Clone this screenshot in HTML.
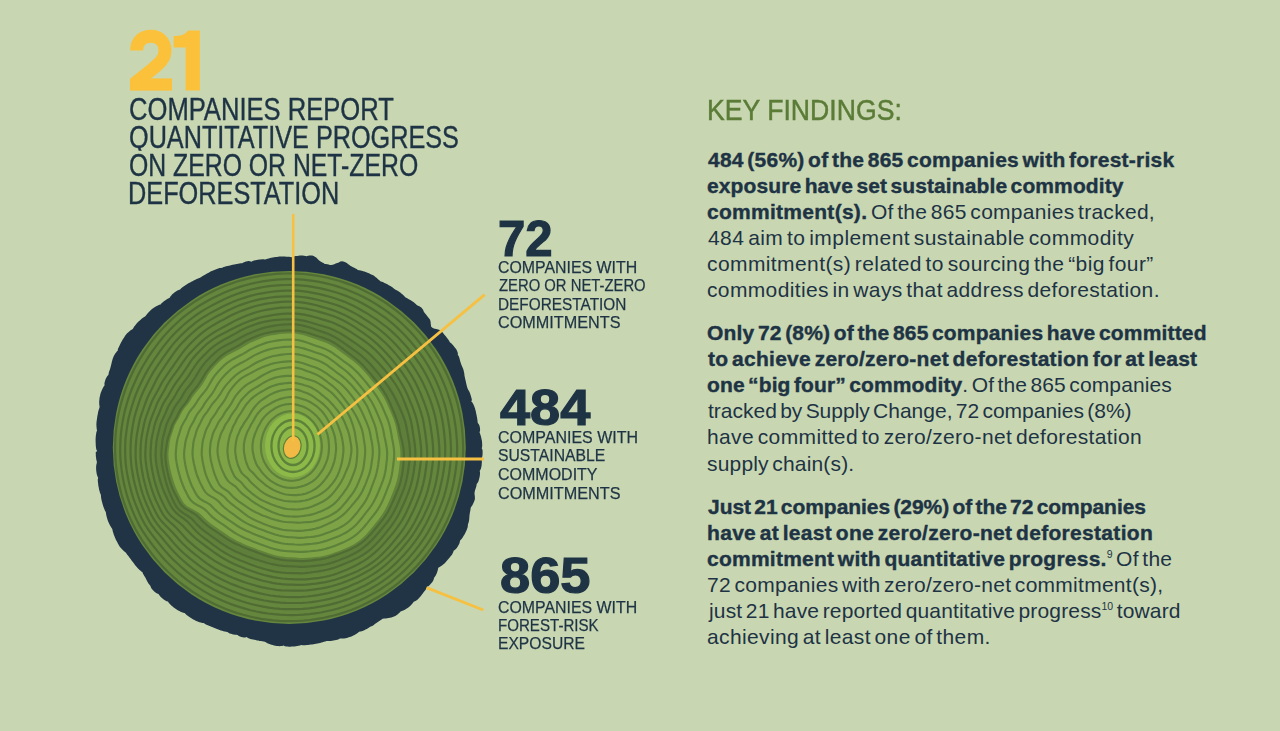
<!DOCTYPE html>
<html><head><meta charset="utf-8"><style>
html,body{margin:0;padding:0;}
body{width:1280px;height:731px;background:#c8d7b2;position:relative;overflow:hidden;font-family:"Liberation Sans",sans-serif;}
div{white-space:nowrap;}
sup{font-size:0.5em;vertical-align:0;position:relative;top:-0.75em;letter-spacing:0;}
</style></head><body>
<svg width="1280" height="731" viewBox="0 0 1280 731" style="position:absolute;left:0;top:0"><defs><filter id="blur" x="-20%" y="-20%" width="140%" height="140%"><feGaussianBlur stdDeviation="4"/></filter></defs><path d="M97.2,451.0 L96.4,449.7 L96.1,448.3 L95.9,447.0 L95.8,445.6 L95.7,444.3 L95.7,442.9 L95.6,441.5 L95.6,440.2 L95.6,438.8 L95.7,437.5 L95.8,436.1 L96.0,434.8 L96.2,433.4 L96.4,432.1 L97.0,430.8 L96.8,429.4 L96.6,428.1 L96.5,426.7 L96.4,425.3 L96.4,423.9 L96.5,422.6 L96.6,421.2 L96.8,419.9 L97.0,418.5 L97.2,417.2 L97.4,415.8 L97.7,414.5 L97.9,413.2 L98.2,411.8 L98.5,410.5 L98.9,409.2 L99.4,407.9 L99.6,406.6 L99.3,405.1 L99.2,403.7 L99.2,402.3 L99.2,400.9 L99.4,399.5 L99.5,398.1 L99.8,396.7 L100.1,395.4 L100.4,394.1 L100.8,392.8 L101.3,391.5 L101.8,390.2 L102.4,388.9 L103.0,387.7 L103.7,386.5 L104.6,385.3 L104.4,383.8 L104.6,382.4 L105.0,381.1 L105.4,379.8 L105.9,378.5 L106.6,377.3 L107.3,376.1 L108.4,375.1 L108.6,373.7 L108.9,372.3 L109.3,371.0 L109.8,369.7 L110.2,368.4 L110.6,367.0 L110.9,365.7 L111.3,364.3 L111.6,362.9 L111.9,361.5 L112.3,360.2 L112.7,358.8 L113.2,357.5 L113.7,356.2 L114.4,355.0 L115.1,353.8 L115.9,352.7 L116.8,351.6 L117.8,350.5 L117.9,349.0 L118.5,347.7 L119.1,346.5 L119.7,345.2 L120.3,343.9 L120.9,342.7 L121.6,341.5 L122.3,340.2 L123.0,339.0 L123.8,337.9 L124.5,336.7 L125.3,335.5 L126.1,334.4 L127.1,333.3 L128.1,332.4 L129.2,331.4 L130.3,330.5 L131.5,329.7 L132.8,328.9 L133.5,327.7 L134.2,326.6 L135.1,325.4 L135.9,324.4 L136.8,323.3 L137.8,322.3 L138.8,321.3 L139.8,320.4 L140.9,319.5 L141.9,318.6 L143.0,317.7 L144.2,316.9 L145.4,316.2 L146.3,315.1 L147.1,314.0 L148.0,312.9 L148.9,311.9 L149.9,310.9 L150.9,310.0 L152.0,309.1 L153.1,308.3 L154.2,307.5 L155.4,306.8 L156.7,306.1 L157.9,305.4 L159.2,304.8 L160.6,304.4 L161.5,303.3 L162.5,302.4 L163.6,301.5 L164.7,300.7 L165.8,299.9 L166.9,299.2 L168.1,298.5 L169.5,298.1 L170.2,296.8 L171.1,295.7 L172.0,294.6 L173.0,293.7 L174.1,292.8 L175.1,292.0 L176.3,291.2 L177.4,290.5 L178.7,289.9 L180.1,289.6 L181.0,288.5 L182.1,287.6 L183.2,286.8 L184.3,286.0 L185.4,285.3 L186.6,284.5 L187.7,283.8 L188.9,283.1 L190.1,282.4 L191.3,281.8 L192.5,281.2 L193.7,280.5 L194.9,279.9 L196.2,279.3 L197.4,278.8 L198.7,278.2 L200.0,277.8 L201.2,277.1 L202.3,276.3 L203.5,275.6 L204.6,274.9 L205.8,274.2 L207.0,273.5 L208.2,272.9 L209.4,272.2 L210.6,271.6 L211.8,271.0 L213.1,270.4 L214.3,269.9 L215.6,269.4 L216.9,268.9 L218.2,268.5 L219.5,268.1 L220.9,267.9 L222.3,267.7 L223.5,267.1 L224.8,266.7 L226.1,266.3 L227.5,266.0 L228.8,265.7 L230.1,265.4 L231.5,265.1 L232.8,264.8 L234.1,264.5 L235.5,264.3 L236.8,264.0 L238.1,263.7 L239.4,263.4 L240.8,263.2 L242.2,263.2 L243.4,262.5 L244.7,261.9 L245.9,261.5 L247.3,261.2 L248.6,261.1 L250.0,261.2 L251.5,261.7 L252.7,260.9 L254.0,260.5 L255.4,260.2 L256.7,259.9 L258.0,259.7 L259.4,259.5 L260.7,259.4 L262.0,259.2 L263.4,259.2 L264.8,259.4 L266.1,259.2 L267.4,258.8 L268.8,258.4 L270.1,258.0 L271.4,257.7 L272.7,257.5 L274.1,257.2 L275.4,257.0 L276.8,256.9 L278.1,256.7 L279.5,256.6 L280.9,256.6 L282.2,256.5 L283.6,256.6 L284.9,256.6 L286.3,256.7 L287.6,256.7 L289.0,256.8 L290.4,257.0 L291.7,257.3 L293.1,256.6 L294.4,256.2 L295.8,256.0 L297.2,255.9 L298.6,255.7 L299.9,255.6 L301.3,255.6 L302.7,255.6 L304.0,255.8 L305.4,256.1 L306.7,256.3 L308.1,255.8 L309.5,255.6 L310.9,255.6 L312.3,255.6 L313.6,255.9 L314.9,256.7 L316.2,257.6 L317.4,258.8 L318.6,260.0 L319.8,261.0 L321.0,261.8 L322.3,262.4 L323.5,263.0 L324.7,264.1 L326.0,263.9 L327.3,264.2 L328.6,264.5 L329.9,264.9 L331.2,265.0 L332.7,264.8 L334.2,264.3 L335.7,263.6 L337.3,263.1 L338.8,262.6 L340.4,261.6 L342.0,261.3 L343.3,261.5 L344.7,261.9 L345.9,262.6 L347.1,263.3 L348.3,264.2 L349.4,265.1 L350.6,265.9 L351.8,266.6 L353.0,267.2 L354.3,267.8 L355.5,268.4 L356.7,269.1 L357.8,269.9 L359.1,270.2 L360.5,270.5 L361.8,270.8 L363.1,271.2 L364.4,271.6 L365.7,272.1 L366.9,272.6 L368.2,273.1 L369.5,273.6 L370.7,274.2 L371.9,274.7 L373.2,275.3 L374.3,276.0 L375.4,276.9 L376.5,277.8 L377.5,278.8 L378.6,279.7 L379.6,280.5 L380.7,281.4 L382.0,281.8 L383.3,282.3 L384.5,282.9 L385.7,283.5 L386.9,284.1 L388.1,284.7 L389.3,285.4 L390.4,286.1 L391.6,286.8 L392.7,287.6 L393.8,288.4 L394.8,289.3 L396.0,289.9 L397.2,290.5 L398.4,291.3 L399.5,292.0 L400.6,292.8 L401.6,293.7 L402.7,294.5 L403.7,295.5 L404.6,296.5 L405.6,297.4 L406.8,298.0 L408.0,298.7 L409.2,299.4 L410.3,300.1 L411.5,300.8 L412.6,301.6 L413.8,302.3 L414.8,303.2 L415.8,304.1 L416.7,305.1 L418.0,305.7 L419.4,306.2 L420.5,307.0 L421.6,307.8 L422.5,308.9 L423.2,310.1 L423.7,311.5 L424.5,312.7 L425.4,313.7 L426.2,314.7 L427.0,315.8 L427.9,316.9 L428.7,317.9 L429.6,318.9 L430.2,320.2 L430.6,321.7 L430.7,323.4 L430.9,325.0 L431.1,326.6 L432.0,327.5 L433.3,328.2 L434.8,328.7 L436.4,329.0 L438.1,329.4 L439.6,329.9 L440.9,330.6 L441.8,331.6 L442.7,332.6 L443.6,333.7 L444.4,334.7 L445.3,335.8 L446.2,336.8 L447.0,337.9 L447.9,338.9 L448.6,340.0 L449.3,341.2 L450.1,342.4 L451.2,343.2 L452.2,344.2 L453.0,345.3 L453.9,346.3 L454.8,347.4 L455.7,348.5 L456.4,349.6 L457.0,350.8 L457.5,352.1 L457.9,353.5 L457.8,355.1 L458.7,356.1 L459.2,357.4 L459.6,358.8 L459.9,360.1 L460.3,361.5 L460.7,362.8 L461.1,364.1 L461.6,365.3 L462.1,366.6 L462.7,367.8 L463.2,369.0 L463.6,370.3 L463.9,371.7 L464.2,373.0 L464.4,374.4 L464.5,375.8 L464.8,377.1 L465.1,378.4 L465.4,379.7 L465.7,381.0 L466.0,382.4 L466.3,383.7 L466.6,385.0 L466.9,386.2 L467.3,387.5 L467.7,388.8 L468.3,390.0 L469.0,391.1 L469.6,392.3 L470.1,393.5 L470.5,394.8 L470.9,396.1 L471.3,397.4 L471.6,398.6 L471.9,399.9 L471.3,401.5 L472.4,402.5 L473.1,403.7 L473.7,405.0 L474.2,406.2 L474.7,407.5 L475.1,408.7 L475.4,410.0 L475.8,411.3 L476.0,412.6 L476.3,413.9 L476.6,415.2 L476.8,416.5 L477.1,417.8 L477.3,419.2 L477.5,420.5 L477.6,421.8 L477.8,423.1 L478.8,424.3 L479.4,425.6 L479.8,426.9 L480.0,428.2 L480.1,429.6 L480.0,430.9 L479.5,432.3 L480.0,433.6 L480.5,434.9 L480.9,436.2 L481.2,437.6 L481.5,438.9 L481.8,440.2 L482.0,441.6 L482.1,442.9 L482.2,444.3 L482.2,445.6 L482.1,447.0 L481.7,448.3 L482.4,449.6 L482.6,451.0 L482.6,452.4 L482.6,453.7 L482.5,455.1 L482.3,456.4 L481.9,457.7 L481.5,459.1 L481.8,460.4 L481.9,461.8 L481.8,463.1 L481.7,464.5 L481.6,465.8 L481.3,467.1 L481.0,468.5 L480.4,469.8 L479.7,471.0 L480.0,472.4 L480.0,473.8 L479.9,475.1 L479.7,476.4 L479.4,477.8 L479.1,479.1 L478.7,480.4 L478.3,481.7 L477.5,482.9 L476.7,484.1 L476.5,485.4 L476.2,486.7 L475.8,488.0 L475.4,489.3 L475.0,490.5 L474.7,491.8 L474.5,493.2 L474.6,494.5 L474.8,495.9 L474.9,497.4 L474.9,498.7 L474.7,500.1 L474.2,501.3 L473.7,502.6 L473.1,503.8 L472.5,505.0 L471.7,506.2 L470.9,507.3 L470.6,508.6 L470.4,510.0 L470.2,511.3 L469.9,512.6 L469.7,513.9 L469.5,515.3 L469.4,516.7 L469.3,518.1 L469.2,519.4 L469.0,520.8 L468.7,522.2 L468.2,523.4 L467.9,524.7 L467.8,526.2 L467.6,527.5 L467.1,528.8 L466.7,530.1 L466.1,531.3 L465.5,532.6 L464.9,533.8 L464.2,534.9 L463.5,536.1 L462.8,537.3 L462.0,538.4 L461.1,539.5 L460.1,540.4 L459.8,541.8 L459.5,543.2 L458.9,544.4 L458.3,545.6 L457.6,546.8 L456.8,547.9 L455.9,548.9 L454.8,549.9 L453.6,550.7 L453.3,552.1 L452.7,553.3 L452.1,554.5 L451.3,555.6 L450.4,556.6 L449.5,557.7 L448.6,558.7 L447.7,559.7 L446.9,560.7 L446.0,561.8 L445.2,562.8 L444.2,563.8 L443.1,564.6 L442.0,565.4 L440.8,566.2 L439.6,567.0 L438.3,567.7 L438.0,569.1 L437.7,570.5 L437.2,571.9 L436.8,573.2 L436.2,574.5 L435.6,575.8 L434.8,576.8 L434.0,577.9 L433.7,579.5 L433.1,580.8 L432.4,581.9 L431.5,582.9 L430.6,584.0 L429.7,585.0 L428.7,585.9 L427.6,586.8 L426.7,587.7 L426.1,589.0 L425.3,590.2 L424.4,591.3 L423.6,592.3 L422.8,593.5 L421.9,594.6 L421.1,595.7 L420.2,596.8 L419.3,597.8 L418.4,598.8 L417.4,599.7 L416.3,600.5 L415.0,601.2 L413.7,601.7 L412.9,602.9 L412.0,604.0 L411.1,605.1 L410.1,606.0 L409.0,606.9 L408.0,607.7 L406.8,608.5 L405.6,609.2 L404.4,609.9 L403.2,610.5 L401.8,610.9 L400.6,611.6 L399.7,612.6 L398.6,613.5 L397.5,614.4 L396.4,615.2 L395.3,615.9 L394.0,616.5 L392.7,617.0 L391.4,617.4 L390.0,617.7 L388.5,618.0 L387.1,618.2 L385.6,618.4 L384.2,618.6 L382.7,618.7 L381.6,619.5 L380.5,620.2 L379.3,620.9 L378.2,621.7 L377.1,622.5 L376.0,623.3 L374.9,624.1 L373.8,624.9 L372.7,625.7 L371.5,626.3 L370.2,626.8 L369.1,627.6 L368.0,628.3 L366.8,629.0 L365.5,629.6 L364.3,630.2 L363.1,630.7 L361.8,631.2 L360.5,631.6 L359.1,631.8 L358.0,632.7 L356.9,633.6 L355.7,634.3 L354.5,635.0 L353.3,635.6 L352.0,636.2 L350.8,636.7 L349.5,637.1 L348.2,637.5 L346.8,637.9 L345.5,638.2 L344.1,638.4 L342.8,638.5 L341.4,638.6 L339.9,638.4 L338.7,639.3 L337.4,639.7 L336.1,640.0 L334.8,640.3 L333.4,640.5 L332.1,640.7 L330.8,640.9 L329.4,641.0 L328.0,641.1 L326.6,640.9 L325.3,641.4 L324.0,641.8 L322.7,642.2 L321.4,642.5 L320.1,642.9 L318.7,643.2 L317.4,643.4 L316.1,643.7 L314.7,644.0 L313.4,644.2 L312.1,644.4 L310.7,644.6 L309.4,644.8 L308.0,644.9 L306.7,645.1 L305.3,645.2 L303.9,645.2 L302.6,645.2 L301.2,645.1 L299.9,645.5 L298.5,645.8 L297.2,646.1 L295.8,646.3 L294.5,646.4 L293.1,646.6 L291.7,646.6 L290.4,646.7 L289.0,646.7 L287.6,646.6 L286.3,646.5 L284.9,646.3 L283.6,645.4 L282.2,646.0 L280.8,646.1 L279.5,646.2 L278.1,646.1 L276.7,645.9 L275.4,645.7 L274.0,645.4 L272.7,645.1 L271.4,644.7 L270.1,644.2 L268.7,643.7 L267.4,643.2 L266.2,642.5 L264.9,641.8 L263.6,641.4 L262.3,641.3 L260.9,641.1 L259.6,640.9 L258.3,640.6 L257.0,640.4 L255.7,640.1 L254.3,639.8 L253.0,639.6 L251.7,639.2 L250.4,638.9 L249.2,638.4 L247.9,637.9 L246.7,637.1 L245.3,637.5 L243.9,637.5 L242.6,637.3 L241.3,637.0 L240.0,636.5 L238.8,635.9 L237.6,635.1 L236.3,634.7 L234.9,634.7 L233.6,634.5 L232.3,634.2 L231.0,633.8 L229.7,633.4 L228.5,632.8 L227.4,632.0 L226.0,631.8 L224.7,631.5 L223.4,631.2 L222.1,630.8 L220.8,630.4 L219.6,630.0 L218.3,629.6 L217.0,629.1 L215.8,628.6 L214.5,628.1 L213.3,627.6 L212.1,627.1 L210.8,626.5 L209.6,626.0 L208.4,625.5 L207.1,624.9 L205.9,624.4 L204.8,623.7 L203.6,623.0 L202.2,622.9 L200.8,622.6 L199.5,622.2 L198.2,621.8 L196.9,621.3 L195.7,620.7 L194.5,620.1 L193.3,619.5 L192.1,618.8 L191.0,618.1 L189.8,617.3 L188.7,616.6 L187.7,615.7 L186.6,614.9 L185.6,613.9 L184.6,612.9 L183.2,612.7 L181.9,612.2 L180.6,611.7 L179.4,611.1 L178.2,610.4 L177.0,609.7 L175.9,609.0 L174.8,608.2 L173.7,607.4 L172.6,606.6 L171.6,605.7 L170.6,604.8 L169.6,603.8 L168.7,602.8 L168.0,601.5 L166.5,601.2 L165.3,600.6 L164.1,599.8 L163.0,599.0 L162.0,598.1 L161.0,597.2 L160.1,596.2 L159.2,595.1 L158.5,593.9 L157.1,593.4 L155.9,592.7 L154.8,591.9 L153.8,591.0 L152.8,590.1 L151.9,589.0 L151.2,587.9 L150.6,586.5 L150.0,585.2 L149.0,584.3 L148.3,583.2 L147.6,582.0 L146.9,580.7 L146.3,579.5 L145.7,578.2 L145.0,577.0 L144.3,575.9 L143.6,574.7 L142.9,573.6 L142.5,572.2 L141.3,571.4 L140.3,570.6 L139.3,569.7 L138.3,568.7 L137.4,567.7 L136.5,566.7 L135.6,565.7 L134.8,564.7 L134.0,563.6 L133.2,562.6 L132.4,561.5 L131.6,560.4 L130.8,559.3 L130.0,558.2 L129.2,557.2 L128.4,556.1 L127.5,555.1 L126.7,554.0 L126.0,552.8 L125.0,551.9 L123.8,551.0 L122.8,550.1 L121.8,549.1 L120.9,548.1 L120.0,547.0 L119.3,545.9 L118.6,544.7 L117.9,543.5 L117.3,542.3 L116.6,541.1 L116.0,539.9 L115.5,538.7 L114.9,537.4 L114.4,536.1 L113.9,534.9 L113.5,533.6 L113.0,532.3 L112.7,531.0 L112.4,529.6 L112.0,528.4 L111.1,527.2 L110.4,526.1 L109.8,524.9 L109.2,523.7 L108.6,522.4 L108.1,521.2 L107.6,519.9 L107.2,518.6 L106.8,517.3 L106.5,516.0 L106.2,514.7 L106.0,513.3 L105.8,511.9 L105.0,510.8 L104.5,509.5 L104.0,508.3 L103.5,507.0 L103.1,505.7 L102.7,504.4 L102.3,503.1 L102.0,501.8 L101.6,500.5 L101.4,499.2 L101.1,497.8 L101.0,496.5 L100.9,495.1 L100.4,493.8 L99.9,492.6 L99.6,491.3 L99.2,490.0 L98.9,488.6 L98.7,487.3 L98.4,486.0 L98.2,484.6 L98.1,483.3 L97.9,481.9 L97.8,480.6 L97.8,479.2 L98.2,477.8 L97.5,476.5 L97.1,475.2 L96.7,473.9 L96.5,472.6 L96.3,471.3 L96.2,469.9 L96.1,468.6 L96.1,467.2 L96.2,465.8 L96.4,464.5 L96.8,463.1 L96.9,461.7 L96.5,460.4 L96.2,459.1 L96.1,457.7 L95.9,456.4 L95.8,455.0 L95.8,453.7 L95.7,452.3Z" fill="#203446"/><circle cx="289.3" cy="447.4" r="176.5" fill="#64863d"/><path d="M162.3,446.0 L162.8,441.5 L163.7,437.1 L165.2,432.7 L166.4,428.4 L167.8,424.2 L169.9,420.2 L172.2,416.3 L174.1,412.3 L176.0,408.5 L178.7,404.9 L181.5,401.5 L183.8,398.1 L185.9,394.5 L188.3,391.1 L190.9,387.9 L193.5,384.8 L195.9,381.5 L198.1,378.2 L200.1,374.6 L202.2,371.1 L204.5,367.6 L207.1,364.5 L209.9,361.5 L212.7,358.5 L215.6,355.6 L218.8,352.9 L222.1,350.5 L225.7,348.4 L229.3,346.5 L233.0,344.6 L236.6,342.7 L240.1,340.7 L243.6,338.5 L247.3,336.6 L251.1,334.9 L254.9,333.3 L258.7,331.7 L262.7,330.3 L266.7,329.3 L270.8,328.4 L274.9,327.8 L279.0,327.2 L283.2,326.8 L287.3,326.5 L291.5,326.4 L295.7,326.6 L299.8,327.2 L303.9,328.1 L307.9,329.2 L311.9,330.5 L315.8,331.9 L319.6,333.2 L323.5,334.4 L327.3,335.8 L331.0,337.4 L334.6,339.3 L338.1,341.4 L341.4,343.7 L344.6,346.1 L347.8,348.5 L351.0,350.8 L354.2,353.1 L357.3,355.4 L360.4,357.9 L363.3,360.5 L366.0,363.2 L368.7,366.1 L371.3,369.0 L373.8,371.9 L376.3,374.9 L378.7,377.9 L381.1,380.9 L383.4,384.0 L385.6,387.2 L387.7,390.4 L389.7,393.8 L391.6,397.2 L393.3,400.7 L394.9,404.2 L396.4,407.8 L398.0,411.4 L399.5,415.0 L400.8,418.7 L402.0,422.5 L403.0,426.3 L403.7,430.2 L404.4,434.1 L405.2,438.1 L406.0,442.0 L406.7,446.0 L407.2,450.0 L407.4,454.1 L407.2,458.2 L406.9,462.2 L406.4,466.3 L405.9,470.3 L405.3,474.4 L404.5,478.4 L403.6,482.4 L402.4,486.4 L401.0,490.3 L399.5,494.1 L398.0,498.0 L396.5,501.8 L394.8,505.6 L393.0,509.5 L391.1,513.2 L389.0,516.8 L386.6,520.3 L384.0,523.7 L381.4,526.9 L378.7,530.2 L376.0,533.6 L373.3,536.8 L370.4,540.0 L367.3,543.0 L364.0,545.8 L360.5,548.4 L356.9,550.6 L353.1,552.7 L349.2,554.5 L345.2,556.1 L341.2,557.6 L337.2,559.1 L333.2,560.5 L329.1,561.8 L325.0,562.8 L320.8,563.5 L316.6,563.9 L312.4,564.3 L308.2,564.7 L304.0,565.0 L299.8,564.9 L295.6,564.6 L291.5,564.3 L287.4,564.1 L283.3,563.8 L279.2,563.1 L275.2,562.3 L271.2,561.3 L267.2,560.1 L263.4,558.8 L259.5,557.5 L255.7,556.1 L251.9,554.7 L248.2,553.3 L244.4,551.8 L240.7,550.2 L237.0,548.5 L233.3,546.7 L229.8,544.8 L226.3,542.7 L222.9,540.4 L219.6,538.0 L216.2,535.7 L212.8,533.4 L209.3,531.1 L205.9,528.6 L202.6,526.0 L199.6,523.1 L196.7,520.1 L193.6,517.1 L189.7,514.6 L185.3,512.3 L181.1,509.7 L177.8,506.4 L175.4,502.6 L173.3,498.6 L171.3,494.6 L169.5,490.4 L167.8,486.2 L166.4,481.9 L165.2,477.5 L164.1,473.1 L163.1,468.6 L162.3,464.2 L161.7,459.6 L161.4,455.1 L161.7,450.5Z" fill="none" stroke="#4f6f35" stroke-opacity="0.35" stroke-width="12" filter="url(#blur)"/><path d="M166.4,446.0 L167.1,441.7 L168.1,437.4 L169.6,433.2 L170.9,429.1 L172.3,425.0 L174.4,421.1 L176.6,417.4 L178.4,413.6 L180.3,409.9 L182.8,406.4 L185.4,403.1 L187.6,399.8 L189.6,396.3 L191.8,393.0 L194.3,389.9 L196.8,386.8 L199.1,383.7 L201.2,380.4 L203.2,377.0 L205.2,373.6 L207.4,370.3 L209.9,367.2 L212.6,364.3 L215.3,361.4 L218.1,358.6 L221.1,355.9 L224.3,353.5 L227.7,351.4 L231.2,349.5 L234.7,347.6 L238.2,345.7 L241.6,343.7 L245.0,341.5 L248.5,339.7 L252.2,338.1 L255.9,336.5 L259.7,335.0 L263.5,333.7 L267.4,332.8 L271.4,332.0 L275.4,331.4 L279.4,330.9 L283.4,330.6 L287.5,330.4 L291.5,330.3 L295.5,330.5 L299.5,331.0 L303.5,331.8 L307.4,332.8 L311.2,334.0 L315.0,335.3 L318.8,336.5 L322.6,337.6 L326.3,338.9 L329.9,340.5 L333.4,342.3 L336.7,344.4 L339.9,346.7 L343.1,349.0 L346.1,351.4 L349.2,353.7 L352.2,356.0 L355.2,358.3 L358.1,360.7 L360.9,363.3 L363.6,366.0 L366.1,368.7 L368.6,371.6 L371.0,374.4 L373.4,377.3 L375.7,380.2 L378.0,383.2 L380.2,386.2 L382.3,389.2 L384.4,392.4 L386.3,395.6 L388.0,398.9 L389.6,402.3 L391.1,405.8 L392.5,409.2 L394.0,412.7 L395.4,416.2 L396.7,419.8 L397.9,423.4 L398.9,427.1 L399.6,430.8 L400.4,434.6 L401.3,438.3 L402.2,442.1 L403.0,446.0 L403.6,449.9 L403.9,453.9 L403.9,457.8 L403.6,461.8 L403.3,465.7 L402.8,469.7 L402.3,473.6 L401.5,477.6 L400.6,481.5 L399.5,485.3 L398.1,489.1 L396.5,492.8 L395.0,496.5 L393.4,500.2 L391.8,503.9 L390.1,507.6 L388.2,511.2 L386.1,514.7 L383.8,518.1 L381.3,521.3 L378.7,524.5 L376.1,527.7 L373.5,530.9 L370.8,534.0 L367.9,537.1 L364.9,540.0 L361.7,542.6 L358.3,545.0 L354.7,547.1 L351.0,549.0 L347.2,550.7 L343.3,552.3 L339.5,553.7 L335.6,555.1 L331.7,556.4 L327.8,557.7 L323.8,558.7 L319.8,559.4 L315.7,559.9 L311.7,560.4 L307.6,560.8 L303.6,561.2 L299.6,561.2 L295.5,560.9 L291.5,560.7 L287.5,560.5 L283.5,560.1 L279.6,559.4 L275.7,558.6 L271.8,557.5 L268.0,556.4 L264.3,555.1 L260.6,553.7 L256.9,552.4 L253.3,551.0 L249.6,549.6 L246.0,548.2 L242.4,546.7 L238.8,545.1 L235.2,543.5 L231.7,541.7 L228.3,539.7 L225.0,537.6 L221.7,535.3 L218.4,533.1 L215.1,530.9 L211.7,528.7 L208.4,526.3 L205.2,523.7 L202.2,520.9 L199.4,518.0 L196.4,515.1 L192.6,512.7 L188.4,510.4 L184.3,507.9 L181.1,504.7 L178.7,501.0 L176.7,497.1 L174.7,493.2 L172.8,489.2 L171.2,485.1 L169.8,480.9 L168.6,476.6 L167.6,472.3 L166.7,468.0 L166.0,463.6 L165.5,459.2 L165.4,454.8 L165.8,450.4Z" fill="none" stroke="#506c34" stroke-width="2.2"/><path d="M161.9,446.0 L162.3,441.5 L163.1,437.0 L164.3,432.6 L165.4,428.3 L166.7,424.0 L168.5,419.9 L170.6,415.9 L172.4,411.8 L174.3,407.9 L176.7,404.2 L179.4,400.7 L181.7,397.1 L183.7,393.4 L186.0,389.9 L188.6,386.6 L191.2,383.3 L193.6,380.0 L195.8,376.5 L197.9,372.9 L200.1,369.3 L202.5,365.8 L205.1,362.6 L208.0,359.5 L210.9,356.5 L214.0,353.6 L217.2,350.9 L220.6,348.4 L224.2,346.3 L227.9,344.3 L231.7,342.4 L235.4,340.5 L239.1,338.5 L242.7,336.4 L246.5,334.6 L250.3,332.9 L254.2,331.3 L258.2,329.7 L262.2,328.4 L266.3,327.3 L270.4,326.4 L274.6,325.6 L278.8,325.0 L283.0,324.6 L287.2,324.3 L291.5,324.2 L295.7,324.4 L300.0,325.0 L304.1,325.9 L308.2,327.0 L312.3,328.3 L316.2,329.7 L320.2,331.1 L324.1,332.4 L328.0,333.8 L331.7,335.5 L335.4,337.4 L338.9,339.6 L342.3,341.8 L345.6,344.2 L348.9,346.5 L352.2,348.9 L355.5,351.2 L358.7,353.5 L361.8,356.0 L364.8,358.7 L367.6,361.4 L370.4,364.3 L373.0,367.3 L375.6,370.3 L378.1,373.3 L380.6,376.4 L383.0,379.5 L385.4,382.7 L387.7,385.9 L389.9,389.2 L392.0,392.6 L394.0,396.0 L395.8,399.6 L397.5,403.2 L399.2,406.8 L400.8,410.5 L402.4,414.2 L403.9,418.0 L405.2,421.8 L406.2,425.8 L406.9,429.8 L407.6,433.8 L408.3,437.8 L409.0,441.9 L409.6,446.0 L409.9,450.1 L410.0,454.3 L409.8,458.4 L409.3,462.6 L408.7,466.7 L408.1,470.8 L407.4,474.9 L406.6,479.0 L405.6,483.1 L404.4,487.1 L403.0,491.0 L401.4,494.9 L399.8,498.8 L398.2,502.7 L396.5,506.6 L394.6,510.4 L392.5,514.2 L390.3,517.8 L387.9,521.3 L385.2,524.6 L382.5,527.9 L379.7,531.2 L376.9,534.5 L374.1,537.7 L371.1,540.9 L368.0,543.9 L364.7,546.7 L361.2,549.3 L357.5,551.7 L353.7,553.8 L349.9,555.7 L345.9,557.5 L341.9,559.1 L337.8,560.7 L333.8,562.1 L329.7,563.4 L325.5,564.5 L321.2,565.2 L317.0,565.7 L312.7,566.1 L308.4,566.5 L304.2,566.8 L299.9,566.8 L295.7,566.5 L291.5,566.3 L287.3,566.2 L283.1,565.8 L279.0,565.3 L274.8,564.6 L270.7,563.7 L266.7,562.7 L262.7,561.5 L258.7,560.3 L254.8,559.0 L250.9,557.6 L247.0,556.2 L243.1,554.7 L239.3,553.1 L235.5,551.4 L231.7,549.5 L228.1,547.5 L224.5,545.3 L221.0,543.0 L217.6,540.5 L214.2,538.1 L210.7,535.7 L207.3,533.2 L203.8,530.7 L200.5,527.9 L197.4,524.9 L194.5,521.7 L191.5,518.7 L187.8,516.0 L183.6,513.4 L179.7,510.5 L176.6,507.1 L174.3,503.1 L172.4,499.0 L170.5,494.9 L168.8,490.7 L167.3,486.4 L166.0,482.0 L164.9,477.6 L163.8,473.1 L162.9,468.7 L162.1,464.2 L161.6,459.7 L161.3,455.1 L161.5,450.5Z" fill="none" stroke="#506c34" stroke-width="2.2"/><path d="M156.1,446.0 L156.5,441.3 L157.4,436.6 L158.6,432.0 L159.7,427.5 L161.0,423.0 L162.9,418.7 L164.9,414.4 L166.7,410.2 L168.5,406.0 L170.9,402.1 L173.5,398.3 L175.8,394.5 L177.9,390.6 L180.3,386.9 L182.9,383.3 L185.6,379.8 L188.2,376.3 L190.6,372.7 L193.0,369.0 L195.4,365.4 L198.0,361.8 L200.9,358.5 L204.0,355.4 L207.1,352.2 L210.3,349.2 L213.7,346.4 L217.3,343.8 L221.0,341.5 L224.8,339.3 L228.7,337.2 L232.5,335.1 L236.4,333.0 L240.2,330.8 L244.2,328.8 L248.2,327.1 L252.3,325.5 L256.5,323.9 L260.7,322.6 L265.1,321.6 L269.4,320.9 L273.8,320.2 L278.2,319.8 L282.7,319.5 L287.1,319.3 L291.5,319.3 L295.9,319.5 L300.3,320.1 L304.6,320.9 L308.9,322.0 L313.2,323.2 L317.3,324.5 L321.5,325.7 L325.6,327.0 L329.7,328.3 L333.7,330.0 L337.6,331.9 L341.4,334.0 L345.0,336.3 L348.6,338.6 L352.1,341.0 L355.6,343.4 L359.1,345.8 L362.5,348.3 L365.8,350.9 L369.0,353.6 L372.1,356.5 L375.1,359.4 L378.0,362.5 L380.8,365.6 L383.6,368.7 L386.3,371.9 L388.9,375.2 L391.5,378.6 L393.9,382.0 L396.2,385.5 L398.4,389.2 L400.4,392.9 L402.2,396.7 L403.8,400.6 L405.4,404.5 L406.9,408.5 L408.4,412.5 L409.7,416.5 L410.8,420.6 L411.7,424.8 L412.4,429.0 L413.0,433.2 L413.7,437.5 L414.4,441.7 L414.9,446.0 L415.3,450.3 L415.4,454.7 L415.2,459.0 L414.8,463.3 L414.3,467.6 L413.7,472.0 L412.9,476.3 L412.0,480.6 L410.9,484.8 L409.6,489.0 L408.1,493.1 L406.5,497.2 L404.8,501.2 L403.0,505.3 L401.1,509.3 L399.2,513.3 L397.1,517.2 L394.7,521.0 L392.2,524.7 L389.5,528.3 L386.7,531.7 L383.9,535.2 L381.0,538.7 L378.0,542.1 L374.9,545.3 L371.6,548.5 L368.0,551.4 L364.3,554.0 L360.5,556.4 L356.5,558.6 L352.4,560.5 L348.2,562.3 L344.0,564.0 L339.8,565.6 L335.6,567.2 L331.3,568.6 L327.0,569.8 L322.6,570.7 L318.2,571.4 L313.7,572.0 L309.3,572.6 L304.9,573.1 L300.4,573.3 L295.9,573.2 L291.5,573.1 L287.1,573.0 L282.6,572.7 L278.2,572.2 L273.9,571.4 L269.6,570.4 L265.3,569.3 L261.1,568.0 L256.9,566.7 L252.8,565.2 L248.7,563.7 L244.6,562.1 L240.5,560.5 L236.5,558.7 L232.6,556.9 L228.6,554.9 L224.8,552.7 L221.1,550.4 L217.5,547.9 L213.9,545.3 L210.4,542.7 L206.8,540.0 L203.3,537.3 L199.8,534.5 L196.5,531.5 L193.4,528.3 L190.5,524.9 L187.4,521.6 L183.8,518.6 L179.8,515.8 L176.0,512.7 L172.8,509.1 L170.4,505.1 L168.3,500.9 L166.2,496.6 L164.3,492.3 L162.5,487.9 L161.0,483.4 L159.7,478.9 L158.4,474.3 L157.4,469.6 L156.5,465.0 L155.9,460.3 L155.6,455.5 L155.7,450.7Z" fill="none" stroke="#506c34" stroke-width="2.2"/><path d="M150.9,446.0 L151.3,441.1 L152.1,436.2 L153.2,431.5 L154.2,426.7 L155.5,422.0 L157.3,417.5 L159.3,413.0 L161.0,408.6 L162.9,404.2 L165.3,400.1 L168.0,396.1 L170.3,392.0 L172.6,388.0 L175.0,384.1 L177.7,380.3 L180.5,376.6 L183.1,372.9 L185.7,369.1 L188.2,365.3 L190.7,361.4 L193.5,357.7 L196.5,354.2 L199.7,350.9 L202.9,347.7 L206.3,344.5 L209.9,341.6 L213.7,338.9 L217.6,336.5 L221.7,334.3 L225.8,332.2 L229.9,330.1 L233.9,328.0 L238.0,325.9 L242.2,324.0 L246.5,322.3 L250.8,320.6 L255.1,319.1 L259.5,317.8 L264.0,316.7 L268.5,315.8 L273.1,315.0 L277.7,314.4 L282.3,313.9 L286.9,313.6 L291.5,313.5 L296.1,313.7 L300.7,314.1 L305.3,314.9 L309.8,315.9 L314.2,317.0 L318.6,318.3 L323.0,319.6 L327.4,320.9 L331.7,322.3 L335.9,323.9 L340.0,325.9 L344.0,328.0 L347.9,330.3 L351.8,332.6 L355.5,335.1 L359.3,337.6 L363.0,340.0 L366.6,342.6 L370.1,345.4 L373.5,348.3 L376.7,351.3 L379.8,354.5 L382.8,357.8 L385.7,361.2 L388.5,364.6 L391.3,368.1 L393.9,371.6 L396.4,375.2 L398.8,378.9 L401.1,382.7 L403.3,386.5 L405.4,390.5 L407.3,394.5 L409.0,398.5 L410.7,402.6 L412.4,406.7 L413.9,410.9 L415.4,415.1 L416.6,419.4 L417.6,423.8 L418.4,428.2 L419.1,432.6 L419.8,437.0 L420.4,441.5 L420.9,446.0 L421.2,450.5 L421.2,455.1 L421.0,459.6 L420.5,464.1 L419.9,468.6 L419.2,473.1 L418.4,477.6 L417.5,482.1 L416.4,486.6 L415.0,491.0 L413.5,495.3 L411.8,499.6 L410.1,503.8 L408.2,508.1 L406.3,512.3 L404.2,516.4 L401.9,520.5 L399.4,524.4 L396.7,528.2 L393.9,531.9 L390.9,535.5 L387.8,539.0 L384.8,542.6 L381.6,546.0 L378.3,549.4 L374.8,552.6 L371.2,555.7 L367.4,558.5 L363.4,561.1 L359.3,563.5 L355.2,565.7 L350.9,567.8 L346.6,569.7 L342.2,571.5 L337.8,573.2 L333.3,574.7 L328.8,576.0 L324.2,577.0 L319.5,577.8 L314.8,578.4 L310.2,578.9 L305.5,579.3 L300.8,579.4 L296.2,579.3 L291.5,579.1 L286.9,578.9 L282.2,578.5 L277.6,577.9 L273.1,577.1 L268.6,576.1 L264.1,575.0 L259.7,573.7 L255.3,572.3 L250.9,570.8 L246.6,569.3 L242.4,567.6 L238.1,565.8 L234.0,564.0 L229.9,561.9 L225.8,559.8 L221.8,557.5 L218.0,555.0 L214.2,552.4 L210.5,549.7 L206.8,547.0 L203.1,544.2 L199.4,541.4 L195.7,538.5 L192.2,535.4 L188.9,532.1 L185.7,528.7 L182.4,525.2 L178.7,522.1 L174.6,519.0 L170.8,515.7 L167.6,511.9 L165.1,507.7 L162.9,503.3 L160.8,498.8 L158.9,494.3 L157.2,489.6 L155.7,484.9 L154.4,480.2 L153.3,475.4 L152.3,470.5 L151.5,465.7 L150.8,460.8 L150.5,455.9 L150.6,450.9Z" fill="none" stroke="#506c34" stroke-width="2.2"/><path d="M145.7,446.0 L146.1,440.9 L146.8,435.9 L147.9,430.9 L149.0,426.0 L150.3,421.1 L152.0,416.3 L153.9,411.7 L155.7,407.1 L157.5,402.5 L159.9,398.1 L162.4,393.8 L164.8,389.6 L167.0,385.3 L169.6,381.2 L172.3,377.2 L175.1,373.3 L178.0,369.4 L180.7,365.5 L183.4,361.5 L186.2,357.6 L189.2,353.9 L192.5,350.4 L195.9,347.0 L199.3,343.6 L202.9,340.4 L206.7,337.4 L210.6,334.6 L214.6,332.0 L218.8,329.6 L223.0,327.3 L227.2,325.0 L231.4,322.7 L235.6,320.4 L239.9,318.4 L244.4,316.5 L248.8,314.7 L253.4,313.1 L258.0,311.7 L262.7,310.5 L267.4,309.6 L272.2,308.8 L277.0,308.2 L281.8,307.7 L286.7,307.5 L291.5,307.4 L296.3,307.6 L301.1,308.0 L305.9,308.7 L310.7,309.7 L315.3,310.8 L320.0,312.1 L324.6,313.4 L329.1,314.7 L333.7,316.2 L338.1,318.0 L342.4,320.0 L346.6,322.2 L350.7,324.6 L354.7,327.2 L358.6,329.8 L362.5,332.4 L366.3,335.1 L370.0,337.9 L373.6,340.9 L377.1,343.9 L380.5,347.1 L383.8,350.4 L386.9,353.8 L390.0,357.3 L393.0,360.8 L395.9,364.4 L398.8,368.1 L401.5,371.8 L404.1,375.6 L406.6,379.5 L409.0,383.5 L411.1,387.6 L413.1,391.8 L415.0,396.1 L416.7,400.4 L418.4,404.8 L419.9,409.2 L421.3,413.6 L422.6,418.1 L423.6,422.7 L424.3,427.3 L425.1,432.0 L425.7,436.6 L426.3,441.3 L426.8,446.0 L427.1,450.7 L427.1,455.5 L426.9,460.2 L426.4,465.0 L425.8,469.7 L425.1,474.4 L424.3,479.1 L423.2,483.8 L422.0,488.4 L420.6,493.0 L418.9,497.5 L417.1,501.9 L415.3,506.4 L413.3,510.8 L411.2,515.1 L409.0,519.4 L406.6,523.7 L404.1,527.8 L401.3,531.8 L398.4,535.7 L395.3,539.5 L392.2,543.3 L389.0,547.0 L385.7,550.6 L382.2,554.1 L378.6,557.5 L374.8,560.6 L370.8,563.5 L366.6,566.2 L362.3,568.6 L357.9,570.9 L353.4,572.9 L348.9,574.8 L344.3,576.6 L339.6,578.2 L335.0,579.8 L330.2,581.0 L325.4,582.1 L320.6,582.9 L315.8,583.6 L310.9,584.2 L306.1,584.6 L301.2,584.8 L296.3,584.8 L291.5,584.7 L286.7,584.6 L281.8,584.2 L277.0,583.6 L272.3,582.8 L267.5,581.8 L262.9,580.7 L258.2,579.4 L253.6,578.0 L249.1,576.5 L244.6,574.9 L240.1,573.2 L235.7,571.4 L231.2,569.5 L226.9,567.5 L222.6,565.4 L218.4,563.0 L214.2,560.6 L210.2,557.9 L206.3,555.1 L202.3,552.3 L198.4,549.3 L194.6,546.3 L190.9,543.2 L187.3,539.9 L183.9,536.3 L180.7,532.6 L177.4,528.9 L173.7,525.4 L169.8,522.0 L166.1,518.4 L163.0,514.3 L160.5,509.9 L158.3,505.3 L156.1,500.7 L154.2,496.0 L152.4,491.2 L150.8,486.3 L149.5,481.4 L148.2,476.5 L147.2,471.4 L146.3,466.4 L145.7,461.3 L145.3,456.2 L145.4,451.1Z" fill="none" stroke="#506c34" stroke-width="2.2"/><path d="M140.7,446.0 L141.1,440.7 L141.8,435.5 L142.8,430.4 L143.8,425.2 L145.0,420.2 L146.7,415.2 L148.5,410.4 L150.3,405.5 L152.2,400.8 L154.6,396.2 L157.1,391.7 L159.6,387.3 L161.9,382.8 L164.5,378.5 L167.4,374.3 L170.2,370.2 L173.1,366.2 L175.9,362.0 L178.8,357.9 L181.7,353.8 L184.7,349.9 L188.1,346.1 L191.5,342.5 L195.1,339.0 L198.8,335.6 L202.7,332.3 L206.7,329.3 L210.9,326.6 L215.3,324.0 L219.6,321.5 L224.1,319.2 L228.5,316.8 L233.0,314.5 L237.5,312.5 L242.2,310.6 L246.9,308.9 L251.7,307.2 L256.6,305.8 L261.5,304.7 L266.4,303.7 L271.4,303.0 L276.4,302.3 L281.4,301.9 L286.5,301.7 L291.5,301.6 L296.5,301.8 L301.5,302.3 L306.5,303.1 L311.4,304.1 L316.3,305.3 L321.1,306.6 L325.9,308.0 L330.7,309.4 L335.4,311.0 L340.0,312.9 L344.5,314.9 L348.9,317.2 L353.2,319.6 L357.4,322.1 L361.5,324.7 L365.6,327.4 L369.7,330.1 L373.6,332.9 L377.5,335.9 L381.2,339.1 L384.8,342.3 L388.3,345.8 L391.7,349.3 L394.9,352.9 L398.0,356.6 L401.1,360.4 L404.0,364.3 L406.8,368.2 L409.5,372.3 L412.0,376.4 L414.4,380.6 L416.7,385.0 L418.7,389.4 L420.7,393.8 L422.5,398.3 L424.3,402.9 L425.9,407.5 L427.4,412.1 L428.7,416.8 L429.7,421.6 L430.6,426.5 L431.3,431.3 L432.0,436.2 L432.6,441.1 L433.0,446.0 L433.2,450.9 L433.2,455.9 L432.9,460.9 L432.4,465.8 L431.7,470.7 L431.0,475.6 L430.1,480.6 L429.0,485.4 L427.8,490.3 L426.3,495.1 L424.6,499.8 L422.8,504.5 L420.9,509.1 L418.8,513.7 L416.6,518.2 L414.3,522.7 L411.7,527.1 L409.0,531.3 L406.0,535.5 L402.9,539.5 L399.6,543.3 L396.2,547.1 L392.8,550.9 L389.2,554.5 L385.5,558.0 L381.7,561.4 L377.6,564.6 L373.5,567.5 L369.2,570.3 L364.7,572.8 L360.2,575.2 L355.6,577.4 L350.9,579.5 L346.2,581.4 L341.4,583.2 L336.6,584.8 L331.7,586.3 L326.8,587.4 L321.8,588.4 L316.7,589.1 L311.7,589.8 L306.7,590.4 L301.6,590.6 L296.6,590.7 L291.5,590.6 L286.5,590.5 L281.4,590.3 L276.4,589.8 L271.4,589.0 L266.4,588.1 L261.5,587.1 L256.6,585.9 L251.8,584.5 L247.0,583.0 L242.2,581.4 L237.5,579.6 L232.8,577.7 L228.2,575.7 L223.7,573.5 L219.2,571.2 L214.9,568.7 L210.6,566.0 L206.4,563.1 L202.4,560.1 L198.4,557.0 L194.4,553.9 L190.4,550.6 L186.6,547.3 L182.9,543.8 L179.4,540.1 L176.0,536.2 L172.6,532.4 L168.9,528.7 L165.1,525.0 L161.4,521.1 L158.3,516.8 L155.7,512.2 L153.4,507.5 L151.2,502.7 L149.2,497.8 L147.4,492.8 L145.9,487.8 L144.5,482.6 L143.3,477.5 L142.3,472.3 L141.5,467.1 L140.8,461.8 L140.5,456.6 L140.5,451.3Z" fill="none" stroke="#506c34" stroke-width="2.2"/><path d="M135.8,446.0 L136.2,440.6 L136.8,435.2 L137.8,429.8 L138.8,424.5 L139.9,419.3 L141.5,414.1 L143.3,409.0 L145.0,404.0 L146.9,399.0 L149.1,394.2 L151.5,389.4 L153.9,384.7 L156.2,380.0 L158.8,375.4 L161.6,371.0 L164.5,366.6 L167.4,362.3 L170.4,358.0 L173.4,353.7 L176.5,349.5 L179.8,345.4 L183.4,341.6 L187.1,337.9 L190.9,334.2 L194.8,330.8 L198.9,327.5 L203.2,324.4 L207.6,321.6 L212.1,318.9 L216.6,316.3 L221.3,313.9 L225.9,311.5 L230.6,309.2 L235.4,307.0 L240.2,305.1 L245.2,303.4 L250.1,301.8 L255.2,300.4 L260.3,299.2 L265.5,298.3 L270.6,297.5 L275.8,296.9 L281.0,296.6 L286.3,296.3 L291.5,296.3 L296.7,296.5 L301.9,297.0 L307.1,297.7 L312.2,298.6 L317.3,299.7 L322.3,301.0 L327.3,302.3 L332.3,303.8 L337.2,305.3 L342.0,307.1 L346.8,309.2 L351.4,311.5 L355.9,313.9 L360.4,316.5 L364.7,319.2 L369.0,322.0 L373.2,324.9 L377.3,327.9 L381.3,331.0 L385.2,334.3 L389.0,337.8 L392.6,341.3 L396.1,345.0 L399.5,348.8 L402.8,352.6 L406.0,356.5 L409.1,360.6 L412.1,364.7 L414.9,368.9 L417.6,373.2 L420.1,377.6 L422.5,382.1 L424.7,386.7 L426.8,391.4 L428.7,396.1 L430.5,400.9 L432.1,405.7 L433.6,410.6 L434.9,415.5 L436.0,420.5 L436.9,425.6 L437.6,430.6 L438.3,435.7 L438.8,440.9 L439.2,446.0 L439.4,451.2 L439.4,456.3 L439.1,461.5 L438.6,466.7 L437.9,471.8 L437.0,476.9 L436.0,482.0 L434.8,487.1 L433.4,492.1 L431.8,497.1 L430.0,501.9 L428.0,506.8 L425.8,511.5 L423.6,516.2 L421.2,520.9 L418.6,525.4 L415.9,529.9 L413.0,534.3 L410.0,538.6 L406.7,542.7 L403.4,546.7 L399.9,550.7 L396.4,554.6 L392.7,558.4 L388.9,562.0 L384.9,565.6 L380.8,568.9 L376.5,572.0 L372.1,574.9 L367.5,577.6 L362.8,580.1 L358.1,582.5 L353.2,584.6 L348.3,586.7 L343.4,588.6 L338.4,590.3 L333.3,591.8 L328.2,593.1 L323.0,594.2 L317.8,595.1 L312.6,595.9 L307.3,596.5 L302.1,596.9 L296.8,597.1 L291.5,597.1 L286.2,597.0 L281.0,596.7 L275.7,596.2 L270.5,595.5 L265.3,594.5 L260.2,593.4 L255.1,592.1 L250.0,590.6 L245.0,589.0 L240.1,587.3 L235.2,585.4 L230.3,583.4 L225.5,581.2 L220.8,579.0 L216.1,576.5 L211.6,573.9 L207.1,571.1 L202.7,568.2 L198.5,565.1 L194.3,561.9 L190.1,558.6 L186.0,555.2 L182.1,551.7 L178.3,548.0 L174.6,544.1 L171.2,540.0 L167.8,535.9 L164.2,531.9 L160.4,527.9 L156.9,523.7 L153.8,519.2 L151.2,514.4 L148.9,509.5 L146.7,504.5 L144.6,499.4 L142.8,494.3 L141.2,489.1 L139.8,483.8 L138.6,478.5 L137.5,473.2 L136.6,467.8 L136.0,462.3 L135.6,456.9 L135.6,451.4Z" fill="none" stroke="#506c34" stroke-width="2.2"/><path d="M130.6,446.0 L130.9,440.4 L131.4,434.8 L132.2,429.3 L133.1,423.7 L134.2,418.3 L135.6,412.9 L137.3,407.6 L139.0,402.3 L140.9,397.1 L143.1,392.0 L145.5,387.0 L148.0,382.1 L150.5,377.2 L153.2,372.4 L156.1,367.8 L159.1,363.3 L162.2,358.8 L165.4,354.4 L168.6,350.0 L171.9,345.6 L175.4,341.5 L179.1,337.5 L183.0,333.6 L187.0,329.9 L191.1,326.3 L195.3,322.9 L199.7,319.7 L204.3,316.7 L209.0,313.9 L213.7,311.3 L218.5,308.7 L223.3,306.3 L228.2,303.9 L233.2,301.8 L238.3,299.8 L243.4,298.1 L248.6,296.4 L253.8,295.0 L259.1,293.8 L264.5,292.8 L269.9,292.0 L275.2,291.3 L280.7,290.9 L286.1,290.6 L291.5,290.5 L296.9,290.7 L302.3,291.1 L307.7,291.8 L313.0,292.8 L318.3,293.9 L323.6,295.1 L328.8,296.5 L333.9,298.0 L339.0,299.7 L344.1,301.6 L349.0,303.7 L353.8,306.1 L358.5,308.5 L363.2,311.2 L367.8,313.9 L372.3,316.8 L376.7,319.7 L381.0,322.8 L385.3,326.0 L389.4,329.4 L393.3,332.9 L397.2,336.6 L400.9,340.4 L404.4,344.3 L407.9,348.3 L411.3,352.4 L414.5,356.7 L417.5,361.0 L420.5,365.4 L423.3,369.9 L425.9,374.5 L428.3,379.3 L430.6,384.1 L432.7,388.9 L434.7,393.9 L436.5,398.9 L438.2,403.9 L439.8,409.0 L441.1,414.2 L442.2,419.4 L443.1,424.7 L443.8,430.0 L444.4,435.3 L444.9,440.6 L445.2,446.0 L445.2,451.4 L445.1,456.7 L444.7,462.1 L444.1,467.4 L443.3,472.8 L442.3,478.1 L441.2,483.3 L440.0,488.6 L438.5,493.8 L436.8,498.9 L435.0,504.0 L432.9,509.0 L430.8,513.9 L428.5,518.8 L426.0,523.7 L423.4,528.4 L420.7,533.1 L417.7,537.7 L414.5,542.1 L411.2,546.4 L407.7,550.6 L404.1,554.7 L400.3,558.7 L396.5,562.6 L392.5,566.4 L388.4,570.0 L384.1,573.4 L379.6,576.6 L375.0,579.7 L370.3,582.5 L365.5,585.2 L360.6,587.6 L355.6,590.0 L350.5,592.1 L345.4,594.1 L340.2,595.9 L335.0,597.5 L329.6,598.9 L324.2,600.0 L318.8,601.0 L313.4,601.8 L307.9,602.5 L302.5,602.9 L297.0,603.0 L291.5,603.0 L286.0,602.9 L280.5,602.6 L275.1,602.1 L269.7,601.4 L264.3,600.5 L258.9,599.4 L253.6,598.1 L248.3,596.7 L243.1,595.1 L237.9,593.3 L232.8,591.4 L227.7,589.3 L222.7,587.1 L217.8,584.7 L212.9,582.1 L208.2,579.3 L203.6,576.4 L199.0,573.3 L194.6,570.0 L190.3,566.6 L186.1,563.1 L181.9,559.5 L177.9,555.7 L174.0,551.8 L170.3,547.7 L166.7,543.5 L163.2,539.2 L159.6,535.0 L155.9,530.7 L152.4,526.3 L149.4,521.6 L146.7,516.6 L144.3,511.5 L142.0,506.4 L140.0,501.2 L138.1,495.8 L136.5,490.5 L135.0,485.0 L133.7,479.5 L132.7,474.0 L131.8,468.4 L131.1,462.9 L130.7,457.2 L130.5,451.6Z" fill="none" stroke="#506c34" stroke-width="2.2"/><path d="M125.2,446.0 L125.4,440.2 L126.0,434.4 L126.8,428.7 L127.7,423.0 L128.8,417.3 L130.3,411.7 L131.9,406.2 L133.7,400.7 L135.5,395.3 L137.7,390.0 L140.1,384.8 L142.6,379.7 L145.1,374.6 L147.9,369.6 L150.8,364.8 L153.9,360.0 L157.1,355.3 L160.4,350.7 L163.7,346.2 L167.3,341.7 L170.9,337.4 L174.8,333.3 L178.9,329.4 L183.0,325.5 L187.3,321.8 L191.7,318.3 L196.3,315.0 L201.0,311.8 L205.8,308.9 L210.7,306.1 L215.7,303.5 L220.7,300.9 L225.8,298.5 L231.0,296.3 L236.3,294.3 L241.6,292.4 L247.0,290.7 L252.4,289.3 L257.9,288.1 L263.5,287.0 L269.0,286.2 L274.6,285.6 L280.3,285.2 L285.9,285.0 L291.5,284.9 L297.1,285.1 L302.7,285.6 L308.3,286.2 L313.8,287.1 L319.3,288.2 L324.8,289.4 L330.2,290.8 L335.6,292.3 L340.9,294.0 L346.1,295.9 L351.3,298.0 L356.4,300.3 L361.3,302.8 L366.2,305.5 L371.0,308.3 L375.7,311.2 L380.3,314.3 L384.9,317.5 L389.2,320.9 L393.5,324.4 L397.6,328.1 L401.6,332.0 L405.5,335.9 L409.2,340.0 L412.8,344.2 L416.3,348.5 L419.6,352.9 L422.8,357.4 L425.9,362.0 L428.7,366.8 L431.4,371.6 L434.0,376.5 L436.3,381.5 L438.5,386.6 L440.5,391.8 L442.3,397.0 L444.0,402.3 L445.5,407.6 L446.8,413.0 L447.9,418.4 L448.8,423.9 L449.6,429.4 L450.2,434.9 L450.6,440.4 L450.9,446.0 L451.0,451.6 L450.8,457.1 L450.4,462.7 L449.8,468.3 L449.1,473.8 L448.1,479.3 L447.0,484.8 L445.7,490.2 L444.2,495.6 L442.5,500.9 L440.5,506.2 L438.4,511.4 L436.2,516.6 L433.7,521.6 L431.1,526.6 L428.4,531.5 L425.4,536.3 L422.3,541.0 L419.0,545.6 L415.5,550.1 L411.9,554.4 L408.2,558.7 L404.3,562.8 L400.3,566.8 L396.1,570.7 L391.8,574.4 L387.3,577.9 L382.7,581.2 L378.0,584.4 L373.1,587.3 L368.1,590.1 L363.0,592.7 L357.9,595.1 L352.6,597.3 L347.3,599.4 L341.9,601.3 L336.5,602.9 L331.0,604.4 L325.4,605.6 L319.8,606.7 L314.2,607.6 L308.6,608.3 L302.9,608.8 L297.2,609.1 L291.5,609.2 L285.8,609.1 L280.1,608.8 L274.4,608.3 L268.8,607.6 L263.2,606.7 L257.6,605.5 L252.1,604.2 L246.6,602.7 L241.1,601.0 L235.8,599.2 L230.4,597.1 L225.2,594.9 L220.0,592.6 L214.9,590.1 L209.9,587.3 L205.0,584.5 L200.2,581.4 L195.5,578.2 L190.9,574.8 L186.4,571.3 L182.0,567.6 L177.7,563.8 L173.5,559.9 L169.5,555.8 L165.7,551.6 L162.0,547.2 L158.4,542.7 L154.8,538.2 L151.2,533.7 L147.8,529.0 L144.7,524.0 L142.0,518.9 L139.5,513.7 L137.2,508.3 L135.0,502.9 L133.1,497.5 L131.4,491.9 L129.9,486.3 L128.5,480.6 L127.4,474.9 L126.4,469.2 L125.7,463.4 L125.3,457.6 L125.1,451.8Z" fill="none" stroke="#506c34" stroke-width="2.2"/><path d="M120.3,446.0 L120.5,440.0 L120.9,434.1 L121.6,428.1 L122.5,422.2 L123.6,416.4 L124.9,410.6 L126.5,404.9 L128.2,399.2 L130.1,393.5 L132.2,388.0 L134.6,382.6 L137.0,377.2 L139.6,371.9 L142.5,366.7 L145.5,361.7 L148.6,356.7 L151.9,351.9 L155.3,347.1 L158.9,342.4 L162.6,337.8 L166.4,333.4 L170.5,329.1 L174.7,325.0 L179.0,321.0 L183.4,317.2 L188.0,313.6 L192.8,310.1 L197.6,306.8 L202.6,303.8 L207.7,300.8 L212.9,298.1 L218.1,295.5 L223.4,293.0 L228.8,290.8 L234.3,288.8 L239.8,286.9 L245.4,285.2 L251.0,283.7 L256.7,282.5 L262.5,281.4 L268.2,280.6 L274.0,279.9 L279.9,279.4 L285.7,279.2 L291.5,279.1 L297.3,279.3 L303.1,279.7 L308.9,280.3 L314.7,281.2 L320.4,282.2 L326.1,283.4 L331.7,284.8 L337.3,286.4 L342.8,288.2 L348.2,290.2 L353.6,292.4 L358.8,294.7 L364.0,297.3 L369.1,300.0 L374.1,302.9 L379.0,306.0 L383.8,309.2 L388.5,312.5 L393.1,316.0 L397.5,319.7 L401.8,323.5 L406.0,327.5 L410.0,331.6 L413.9,335.8 L417.6,340.2 L421.2,344.7 L424.7,349.2 L428.0,354.0 L431.1,358.8 L434.1,363.7 L436.9,368.7 L439.5,373.8 L441.9,379.0 L444.2,384.3 L446.3,389.7 L448.2,395.1 L450.0,400.6 L451.5,406.1 L452.9,411.7 L454.1,417.3 L455.0,423.0 L455.8,428.7 L456.4,434.5 L456.9,440.2 L457.1,446.0 L457.1,451.8 L456.9,457.6 L456.5,463.3 L455.8,469.1 L455.0,474.8 L454.0,480.5 L452.8,486.2 L451.4,491.8 L449.8,497.4 L447.9,502.9 L445.9,508.4 L443.7,513.8 L441.4,519.1 L438.8,524.3 L436.1,529.5 L433.2,534.6 L430.2,539.5 L426.9,544.4 L423.5,549.1 L419.9,553.7 L416.1,558.2 L412.2,562.6 L408.1,566.8 L404.0,570.9 L399.6,574.9 L395.1,578.6 L390.5,582.3 L385.7,585.7 L380.8,589.0 L375.8,592.1 L370.7,594.9 L365.5,597.7 L360.1,600.2 L354.7,602.5 L349.3,604.7 L343.7,606.7 L338.1,608.5 L332.4,610.0 L326.6,611.3 L320.9,612.5 L315.0,613.4 L309.2,614.2 L303.3,614.7 L297.4,615.0 L291.5,615.1 L285.6,615.0 L279.7,614.7 L273.8,614.2 L268.0,613.5 L262.1,612.6 L256.3,611.5 L250.6,610.2 L244.9,608.6 L239.2,606.9 L233.6,605.1 L228.1,603.0 L222.6,600.7 L217.2,598.3 L211.9,595.7 L206.7,592.9 L201.6,589.9 L196.6,586.7 L191.7,583.3 L187.0,579.8 L182.3,576.1 L177.8,572.3 L173.3,568.3 L169.1,564.2 L164.9,560.0 L161.0,555.5 L157.2,550.9 L153.5,546.3 L149.9,541.5 L146.4,536.7 L143.0,531.7 L140.0,526.6 L137.2,521.3 L134.6,515.8 L132.3,510.3 L130.1,504.7 L128.2,499.1 L126.4,493.3 L124.9,487.5 L123.6,481.7 L122.5,475.8 L121.6,469.9 L120.9,463.9 L120.4,458.0 L120.2,452.0Z" fill="none" stroke="#506c34" stroke-width="2.2"/><path d="M115.1,446.0 L115.3,439.8 L115.7,433.7 L116.3,427.6 L117.2,421.5 L118.2,415.4 L119.5,409.4 L121.0,403.5 L122.7,397.6 L124.6,391.8 L126.7,386.0 L129.0,380.3 L131.5,374.8 L134.1,369.3 L137.0,363.9 L140.1,358.6 L143.3,353.4 L146.7,348.3 L150.2,343.4 L154.0,338.5 L157.8,333.8 L161.9,329.3 L166.1,324.9 L170.4,320.6 L174.9,316.5 L179.6,312.6 L184.4,308.9 L189.3,305.3 L194.3,301.9 L199.4,298.7 L204.7,295.6 L210.0,292.8 L215.4,290.1 L221.0,287.6 L226.6,285.3 L232.2,283.2 L238.0,281.3 L243.8,279.6 L249.6,278.1 L255.5,276.8 L261.5,275.7 L267.4,274.8 L273.4,274.2 L279.5,273.7 L285.5,273.5 L291.5,273.4 L297.5,273.6 L303.5,274.0 L309.5,274.7 L315.5,275.5 L321.4,276.5 L327.3,277.7 L333.1,279.2 L338.9,280.8 L344.6,282.6 L350.2,284.6 L355.8,286.8 L361.3,289.3 L366.7,291.9 L372.0,294.6 L377.2,297.6 L382.3,300.7 L387.3,304.0 L392.1,307.5 L396.9,311.1 L401.5,314.9 L406.0,318.8 L410.3,322.9 L414.5,327.2 L418.6,331.6 L422.5,336.1 L426.3,340.7 L429.8,345.5 L433.3,350.4 L436.5,355.4 L439.6,360.5 L442.5,365.7 L445.3,371.0 L447.8,376.4 L450.1,381.9 L452.3,387.5 L454.3,393.1 L456.1,398.8 L457.7,404.6 L459.0,410.4 L460.2,416.3 L461.2,422.2 L462.0,428.1 L462.5,434.0 L462.9,440.0 L463.1,446.0 L463.1,452.0 L462.8,458.0 L462.3,464.0 L461.7,469.9 L460.8,475.9 L459.7,481.8 L458.5,487.6 L457.0,493.5 L455.3,499.2 L453.4,504.9 L451.3,510.6 L449.0,516.1 L446.6,521.6 L443.9,527.0 L441.1,532.4 L438.1,537.6 L434.8,542.7 L431.5,547.7 L427.9,552.6 L424.2,557.3 L420.3,561.9 L416.2,566.4 L412.0,570.8 L407.6,575.0 L403.1,579.0 L398.5,582.9 L393.7,586.7 L388.8,590.2 L383.7,593.6 L378.6,596.8 L373.3,599.8 L367.9,602.6 L362.4,605.3 L356.8,607.7 L351.2,610.0 L345.4,612.0 L339.6,613.9 L333.8,615.5 L327.8,616.9 L321.9,618.2 L315.8,619.2 L309.8,620.0 L303.7,620.6 L297.6,621.0 L291.5,621.1 L285.4,621.1 L279.3,620.9 L273.2,620.4 L267.1,619.7 L261.0,618.8 L255.0,617.7 L249.0,616.3 L243.1,614.8 L237.2,613.1 L231.4,611.1 L225.7,609.0 L220.0,606.6 L214.4,604.1 L208.9,601.3 L203.5,598.4 L198.2,595.3 L193.0,592.0 L188.0,588.5 L183.1,584.8 L178.2,581.0 L173.6,577.0 L169.0,572.8 L164.7,568.5 L160.4,564.0 L156.4,559.4 L152.5,554.6 L148.7,549.7 L145.1,544.7 L141.7,539.6 L138.5,534.4 L135.4,529.0 L132.6,523.5 L130.0,517.9 L127.6,512.2 L125.4,506.4 L123.4,500.6 L121.6,494.7 L120.1,488.7 L118.7,482.7 L117.6,476.7 L116.6,470.6 L115.9,464.5 L115.4,458.3 L115.2,452.2Z" fill="none" stroke="#506c34" stroke-width="2.2"/><path d="M169.3,446.0 L169.8,441.7 L170.7,437.6 L172.1,433.5 L173.4,429.4 L174.7,425.4 L176.8,421.6 L179.0,418.0 L180.8,414.3 L182.7,410.7 L185.2,407.3 L187.9,404.2 L190.2,400.9 L192.2,397.6 L194.4,394.4 L196.9,391.4 L199.4,388.5 L201.7,385.5 L203.8,382.3 L205.7,378.9 L207.5,375.6 L209.7,372.3 L212.1,369.4 L214.7,366.5 L217.4,363.7 L220.1,361.0 L223.1,358.4 L226.2,356.2 L229.6,354.2 L233.0,352.4 L236.5,350.7 L239.9,348.9 L243.2,347.0 L246.5,344.9 L249.9,343.1 L253.5,341.5 L257.0,339.9 L260.7,338.4 L264.4,337.1 L268.1,336.1 L272.0,335.3 L275.9,334.7 L279.7,334.1 L283.7,333.7 L287.6,333.5 L291.5,333.4 L295.4,333.6 L299.3,334.2 L303.2,335.0 L306.9,336.2 L310.6,337.4 L314.3,338.7 L317.9,340.0 L321.6,341.2 L325.2,342.4 L328.6,344.0 L332.0,345.8 L335.2,347.8 L338.3,350.0 L341.3,352.3 L344.3,354.6 L347.3,356.8 L350.3,358.9 L353.2,361.1 L356.1,363.4 L358.8,365.8 L361.4,368.4 L363.8,371.1 L366.2,373.8 L368.6,376.6 L370.9,379.4 L373.2,382.2 L375.4,385.0 L377.6,387.9 L379.7,390.9 L381.7,393.9 L383.6,397.1 L385.3,400.2 L386.9,403.5 L388.4,406.9 L389.9,410.2 L391.3,413.6 L392.7,417.0 L394.1,420.4 L395.2,424.0 L396.1,427.6 L396.8,431.2 L397.5,434.9 L398.2,438.5 L399.0,442.2 L399.7,446.0 L400.2,449.8 L400.4,453.6 L400.3,457.4 L399.9,461.2 L399.5,465.0 L399.0,468.9 L398.5,472.7 L397.8,476.5 L397.0,480.3 L395.9,484.0 L394.6,487.6 L393.2,491.3 L391.7,494.9 L390.3,498.5 L388.8,502.1 L387.1,505.7 L385.3,509.3 L383.3,512.7 L381.1,516.0 L378.7,519.2 L376.2,522.3 L373.7,525.4 L371.2,528.5 L368.6,531.6 L365.9,534.7 L363.0,537.5 L359.9,540.2 L356.6,542.6 L353.2,544.7 L349.6,546.6 L345.9,548.3 L342.1,549.8 L338.4,551.2 L334.6,552.6 L330.8,553.9 L327.0,555.1 L323.1,556.0 L319.1,556.7 L315.1,557.1 L311.1,557.4 L307.2,557.7 L303.3,558.0 L299.3,558.0 L295.4,557.6 L291.5,557.3 L287.6,557.2 L283.8,556.8 L279.9,556.2 L276.1,555.4 L272.4,554.4 L268.7,553.3 L265.1,552.0 L261.5,550.8 L257.9,549.5 L254.3,548.1 L250.8,546.8 L247.3,545.4 L243.8,543.9 L240.3,542.3 L236.8,540.7 L233.5,538.8 L230.2,536.9 L227.0,534.7 L223.9,532.5 L220.7,530.4 L217.5,528.2 L214.2,526.0 L211.0,523.8 L207.9,521.3 L204.9,518.6 L202.2,515.7 L199.3,513.0 L195.5,510.7 L191.3,508.6 L187.2,506.2 L184.0,503.2 L181.7,499.5 L179.7,495.8 L177.8,491.9 L176.0,488.0 L174.5,484.0 L173.2,479.9 L172.0,475.8 L170.9,471.6 L170.0,467.4 L169.2,463.2 L168.6,458.9 L168.4,454.6 L168.7,450.3Z" fill="#7da346"/><path d="M260.9,446.0 L260.9,444.9 L261.0,443.9 L261.1,442.8 L261.2,441.7 L261.4,440.7 L261.6,439.6 L261.8,438.6 L262.0,437.5 L262.3,436.5 L262.6,435.5 L262.9,434.4 L263.3,433.4 L263.6,432.4 L264.0,431.4 L264.5,430.4 L264.9,429.4 L265.4,428.4 L266.0,427.4 L266.5,426.5 L267.1,425.5 L267.7,424.6 L268.3,423.6 L269.0,422.7 L269.7,421.8 L270.5,421.0 L271.3,420.1 L272.1,419.3 L273.0,418.5 L273.9,417.8 L274.8,417.0 L275.7,416.3 L276.7,415.7 L277.7,415.0 L278.7,414.4 L279.8,413.9 L280.9,413.4 L282.0,412.9 L283.2,412.5 L284.3,412.2 L285.5,411.9 L286.7,411.6 L287.9,411.5 L289.1,411.3 L290.3,411.2 L291.5,411.2 L292.7,411.2 L293.9,411.3 L295.1,411.5 L296.3,411.7 L297.5,411.9 L298.7,412.2 L299.8,412.6 L301.0,413.0 L302.1,413.5 L303.2,414.0 L304.2,414.5 L305.3,415.1 L306.3,415.7 L307.2,416.4 L308.2,417.1 L309.1,417.9 L310.0,418.6 L310.8,419.4 L311.6,420.2 L312.4,421.1 L313.2,421.9 L313.9,422.8 L314.6,423.7 L315.2,424.7 L315.8,425.6 L316.4,426.5 L317.0,427.5 L317.5,428.5 L318.0,429.5 L318.4,430.5 L318.9,431.5 L319.3,432.5 L319.6,433.5 L319.9,434.5 L320.2,435.5 L320.5,436.6 L320.8,437.6 L321.0,438.6 L321.2,439.7 L321.4,440.7 L321.5,441.8 L321.6,442.8 L321.7,443.9 L321.8,444.9 L321.8,446.0 L321.8,447.1 L321.8,448.1 L321.7,449.2 L321.6,450.2 L321.5,451.3 L321.4,452.3 L321.2,453.4 L321.0,454.5 L320.7,455.5 L320.5,456.5 L320.2,457.6 L319.8,458.6 L319.5,459.6 L319.1,460.7 L318.6,461.7 L318.2,462.7 L317.7,463.7 L317.2,464.7 L316.6,465.6 L316.0,466.6 L315.4,467.5 L314.8,468.5 L314.1,469.4 L313.3,470.3 L312.6,471.1 L311.8,472.0 L311.0,472.8 L310.1,473.6 L309.2,474.3 L308.3,475.1 L307.3,475.7 L306.3,476.4 L305.3,477.0 L304.3,477.6 L303.2,478.1 L302.1,478.6 L301.0,479.1 L299.8,479.5 L298.7,479.8 L297.5,480.1 L296.3,480.3 L295.1,480.5 L293.9,480.7 L292.7,480.7 L291.5,480.8 L290.3,480.7 L289.1,480.6 L287.9,480.5 L286.7,480.3 L285.5,480.0 L284.3,479.7 L283.2,479.4 L282.1,478.9 L280.9,478.5 L279.9,478.0 L278.8,477.5 L277.8,476.9 L276.7,476.3 L275.8,475.6 L274.8,474.9 L273.9,474.2 L273.0,473.5 L272.1,472.7 L271.3,471.9 L270.5,471.0 L269.7,470.2 L269.0,469.3 L268.3,468.4 L267.6,467.5 L267.0,466.6 L266.4,465.6 L265.8,464.7 L265.3,463.7 L264.7,462.7 L264.2,461.8 L263.7,460.8 L263.3,459.7 L262.9,458.7 L262.6,457.7 L262.3,456.6 L262.0,455.6 L261.7,454.5 L261.5,453.5 L261.3,452.4 L261.2,451.3 L261.1,450.3 L261.0,449.2 L260.9,448.1 L260.9,447.1Z" fill="none" stroke="#5d803b" stroke-width="2.15"/><path d="M252.5,446.0 L252.5,444.6 L252.7,443.3 L252.9,441.9 L253.1,440.6 L253.3,439.3 L253.7,438.0 L254.1,436.7 L254.5,435.4 L254.9,434.1 L255.4,432.9 L255.9,431.6 L256.5,430.4 L257.0,429.2 L257.5,427.9 L258.1,426.7 L258.8,425.6 L259.4,424.4 L260.1,423.2 L260.8,422.0 L261.5,420.8 L262.2,419.6 L263.1,418.5 L263.9,417.5 L264.9,416.4 L265.8,415.4 L266.8,414.4 L267.9,413.5 L269.0,412.6 L270.1,411.7 L271.2,410.9 L272.4,410.1 L273.6,409.3 L274.8,408.5 L276.1,407.8 L277.4,407.1 L278.7,406.5 L280.0,406.0 L281.4,405.5 L282.8,405.0 L284.2,404.7 L285.7,404.4 L287.1,404.2 L288.6,404.1 L290.0,404.0 L291.5,404.0 L293.0,404.1 L294.4,404.3 L295.9,404.6 L297.3,404.9 L298.7,405.3 L300.1,405.7 L301.4,406.1 L302.8,406.6 L304.1,407.1 L305.4,407.7 L306.7,408.4 L307.9,409.1 L309.1,409.9 L310.3,410.7 L311.4,411.5 L312.5,412.4 L313.6,413.2 L314.6,414.2 L315.6,415.1 L316.6,416.1 L317.5,417.1 L318.4,418.1 L319.3,419.2 L320.1,420.3 L320.9,421.4 L321.6,422.4 L322.4,423.6 L323.1,424.7 L323.8,425.8 L324.4,427.0 L325.0,428.2 L325.6,429.4 L326.1,430.6 L326.5,431.8 L327.0,433.1 L327.4,434.3 L327.7,435.6 L328.0,436.9 L328.3,438.2 L328.5,439.5 L328.6,440.8 L328.7,442.1 L328.8,443.4 L328.9,444.7 L329.0,446.0 L329.0,447.3 L329.0,448.6 L328.9,449.9 L328.8,451.2 L328.7,452.6 L328.5,453.9 L328.3,455.2 L328.0,456.5 L327.7,457.8 L327.4,459.1 L327.0,460.3 L326.5,461.6 L326.0,462.8 L325.5,464.1 L325.0,465.3 L324.4,466.6 L323.8,467.8 L323.2,469.0 L322.4,470.2 L321.7,471.3 L320.9,472.5 L320.1,473.6 L319.3,474.7 L318.4,475.9 L317.5,476.9 L316.5,478.0 L315.5,479.0 L314.4,479.9 L313.3,480.8 L312.1,481.7 L310.9,482.4 L309.6,483.1 L308.3,483.8 L307.0,484.4 L305.7,485.0 L304.4,485.6 L303.0,486.0 L301.6,486.4 L300.2,486.8 L298.7,487.1 L297.3,487.4 L295.9,487.6 L294.4,487.7 L293.0,487.8 L291.5,487.8 L290.0,487.8 L288.6,487.7 L287.1,487.6 L285.7,487.4 L284.3,487.1 L282.8,486.7 L281.5,486.3 L280.1,485.8 L278.7,485.3 L277.4,484.7 L276.1,484.0 L274.9,483.4 L273.6,482.7 L272.4,481.9 L271.2,481.1 L270.1,480.3 L268.9,479.4 L267.9,478.5 L266.8,477.6 L265.8,476.6 L264.8,475.6 L263.9,474.6 L262.9,473.6 L262.1,472.5 L261.2,471.4 L260.5,470.2 L259.7,469.1 L258.9,468.0 L258.1,466.9 L257.3,465.8 L256.6,464.6 L256.0,463.3 L255.6,462.0 L255.1,460.7 L254.6,459.4 L254.2,458.1 L253.9,456.8 L253.6,455.5 L253.3,454.1 L253.0,452.8 L252.8,451.4 L252.6,450.1 L252.5,448.7 L252.5,447.4Z" fill="none" stroke="#5d803b" stroke-width="2.15"/><path d="M243.9,446.0 L243.9,444.3 L244.2,442.7 L244.5,441.1 L244.8,439.4 L245.2,437.8 L245.7,436.3 L246.3,434.7 L246.8,433.2 L247.4,431.7 L248.2,430.2 L249.0,428.8 L249.7,427.4 L250.4,425.9 L251.1,424.5 L251.9,423.2 L252.8,421.8 L253.6,420.4 L254.4,419.0 L255.1,417.6 L256.0,416.2 L256.8,414.8 L257.8,413.5 L258.9,412.2 L260.0,411.0 L261.1,409.8 L262.4,408.7 L263.7,407.7 L265.0,406.7 L266.4,405.8 L267.8,405.0 L269.3,404.2 L270.7,403.3 L272.1,402.5 L273.6,401.7 L275.1,401.0 L276.7,400.3 L278.2,399.7 L279.8,399.1 L281.4,398.6 L283.1,398.2 L284.7,397.8 L286.4,397.5 L288.1,397.2 L289.8,397.1 L291.5,397.0 L293.2,397.0 L294.9,397.2 L296.6,397.4 L298.3,397.8 L299.9,398.2 L301.6,398.7 L303.2,399.2 L304.8,399.7 L306.4,400.3 L307.9,400.9 L309.4,401.7 L310.9,402.5 L312.3,403.4 L313.7,404.3 L315.0,405.2 L316.4,406.2 L317.7,407.2 L318.9,408.3 L320.1,409.4 L321.2,410.6 L322.3,411.8 L323.3,413.0 L324.3,414.3 L325.2,415.7 L326.1,417.0 L326.9,418.3 L327.7,419.7 L328.5,421.0 L329.3,422.4 L330.0,423.8 L330.7,425.2 L331.3,426.6 L331.9,428.0 L332.5,429.4 L333.0,430.9 L333.5,432.3 L334.0,433.8 L334.5,435.3 L334.8,436.8 L335.1,438.3 L335.4,439.8 L335.5,441.4 L335.7,442.9 L335.9,444.4 L336.0,446.0 L336.1,447.6 L336.1,449.1 L336.0,450.7 L335.8,452.2 L335.6,453.8 L335.4,455.3 L335.2,456.9 L334.9,458.5 L334.6,460.0 L334.2,461.5 L333.7,463.1 L333.2,464.6 L332.7,466.1 L332.1,467.6 L331.5,469.1 L330.8,470.6 L330.1,472.0 L329.2,473.4 L328.4,474.8 L327.4,476.2 L326.5,477.5 L325.5,478.8 L324.5,480.1 L323.4,481.5 L322.3,482.8 L321.2,484.0 L320.0,485.2 L318.7,486.4 L317.4,487.4 L316.0,488.5 L314.6,489.4 L313.1,490.3 L311.6,491.1 L310.0,491.9 L308.4,492.6 L306.8,493.2 L305.2,493.7 L303.5,494.1 L301.8,494.5 L300.1,494.7 L298.4,494.9 L296.7,495.1 L294.9,495.1 L293.2,495.1 L291.5,495.0 L289.8,494.9 L288.1,494.7 L286.4,494.5 L284.7,494.2 L283.1,493.7 L281.5,493.3 L279.9,492.7 L278.3,492.1 L276.7,491.5 L275.2,490.8 L273.7,490.1 L272.2,489.3 L270.8,488.5 L269.4,487.6 L268.0,486.7 L266.7,485.8 L265.3,484.8 L264.1,483.7 L262.8,482.7 L261.6,481.6 L260.4,480.6 L259.1,479.5 L257.9,478.4 L256.8,477.3 L255.7,476.1 L254.6,474.8 L253.6,473.6 L252.4,472.4 L251.1,471.2 L249.9,470.0 L248.9,468.6 L248.2,467.1 L247.5,465.6 L246.9,464.0 L246.3,462.4 L245.8,460.8 L245.4,459.2 L245.0,457.6 L244.7,456.0 L244.4,454.3 L244.1,452.7 L243.9,451.0 L243.8,449.3 L243.8,447.7Z" fill="none" stroke="#5d803b" stroke-width="2.15"/><path d="M235.5,446.0 L235.7,444.0 L236.0,442.1 L236.4,440.2 L236.8,438.3 L237.3,436.5 L238.1,434.6 L238.9,432.9 L239.6,431.1 L240.3,429.4 L241.3,427.7 L242.4,426.1 L243.3,424.5 L244.2,422.9 L245.2,421.4 L246.3,419.9 L247.3,418.4 L248.4,416.9 L249.3,415.3 L250.2,413.7 L251.1,412.1 L252.1,410.5 L253.2,409.0 L254.3,407.5 L255.5,406.0 L256.7,404.6 L258.0,403.2 L259.4,401.9 L260.9,400.7 L262.5,399.6 L264.1,398.5 L265.7,397.5 L267.3,396.4 L269.0,395.4 L270.7,394.4 L272.4,393.6 L274.2,392.8 L276.0,392.0 L277.9,391.4 L279.8,390.8 L281.7,390.4 L283.6,390.0 L285.6,389.7 L287.5,389.4 L289.5,389.3 L291.5,389.2 L293.5,389.3 L295.4,389.5 L297.4,389.9 L299.3,390.4 L301.2,391.0 L303.0,391.7 L304.9,392.4 L306.7,393.1 L308.4,393.8 L310.2,394.7 L311.8,395.7 L313.4,396.7 L315.0,397.8 L316.5,399.0 L318.0,400.1 L319.5,401.2 L321.0,402.3 L322.4,403.4 L323.8,404.6 L325.2,405.9 L326.4,407.2 L327.7,408.5 L328.8,409.9 L330.0,411.4 L331.1,412.8 L332.1,414.3 L333.1,415.8 L334.0,417.3 L334.9,418.9 L335.8,420.4 L336.5,422.0 L337.3,423.7 L338.0,425.3 L338.6,427.0 L339.2,428.6 L339.8,430.3 L340.4,432.0 L341.0,433.7 L341.4,435.4 L341.8,437.1 L342.2,438.9 L342.5,440.6 L342.8,442.4 L343.0,444.2 L343.3,446.0 L343.4,447.8 L343.4,449.6 L343.4,451.5 L343.2,453.3 L343.0,455.1 L342.8,456.9 L342.5,458.7 L342.2,460.5 L341.9,462.4 L341.4,464.2 L340.9,466.0 L340.4,467.8 L339.8,469.5 L339.2,471.3 L338.5,473.1 L337.8,474.9 L336.9,476.6 L336.0,478.3 L335.0,480.0 L333.8,481.5 L332.7,483.1 L331.4,484.6 L330.2,486.0 L328.9,487.5 L327.5,488.9 L326.0,490.2 L324.5,491.5 L322.9,492.6 L321.3,493.7 L319.6,494.7 L317.9,495.6 L316.1,496.5 L314.3,497.3 L312.5,498.1 L310.7,498.8 L308.9,499.5 L307.0,500.0 L305.1,500.5 L303.2,500.8 L301.2,501.1 L299.3,501.4 L297.3,501.5 L295.4,501.6 L293.4,501.5 L291.5,501.5 L289.6,501.4 L287.6,501.2 L285.7,501.0 L283.8,500.7 L281.9,500.3 L280.1,499.8 L278.2,499.3 L276.4,498.7 L274.6,498.1 L272.8,497.5 L271.0,496.8 L269.2,496.0 L267.5,495.2 L265.8,494.3 L264.2,493.4 L262.6,492.3 L261.0,491.2 L259.5,490.0 L258.1,488.8 L256.7,487.5 L255.2,486.3 L253.8,485.0 L252.4,483.7 L251.1,482.4 L249.8,481.0 L248.6,479.5 L247.4,478.1 L245.9,476.8 L244.3,475.5 L242.7,474.1 L241.5,472.6 L240.5,470.9 L239.7,469.1 L238.9,467.3 L238.1,465.4 L237.5,463.5 L237.0,461.6 L236.5,459.7 L236.1,457.8 L235.8,455.8 L235.5,453.9 L235.3,451.9 L235.2,449.9 L235.3,448.0Z" fill="none" stroke="#5d803b" stroke-width="2.15"/><path d="M227.8,446.0 L228.0,443.8 L228.4,441.6 L228.9,439.4 L229.4,437.3 L229.9,435.1 L230.6,433.1 L231.5,431.0 L232.2,429.0 L232.9,427.0 L233.9,425.0 L235.0,423.2 L235.9,421.3 L236.8,419.3 L237.9,417.5 L239.0,415.7 L240.3,414.0 L241.4,412.2 L242.5,410.4 L243.6,408.6 L244.7,406.8 L245.9,405.0 L247.3,403.3 L248.7,401.7 L250.2,400.1 L251.7,398.6 L253.3,397.1 L255.0,395.8 L256.8,394.6 L258.6,393.4 L260.5,392.3 L262.4,391.2 L264.3,390.1 L266.1,389.0 L268.1,388.0 L270.1,387.1 L272.1,386.3 L274.2,385.5 L276.3,384.9 L278.4,384.3 L280.6,383.9 L282.7,383.6 L284.9,383.3 L287.1,383.1 L289.3,382.9 L291.5,382.9 L293.7,382.9 L295.9,383.1 L298.1,383.5 L300.2,384.0 L302.3,384.5 L304.4,385.2 L306.5,385.8 L308.6,386.5 L310.6,387.3 L312.5,388.2 L314.4,389.3 L316.2,390.4 L318.0,391.7 L319.7,393.0 L321.3,394.4 L322.9,395.7 L324.6,397.0 L326.2,398.3 L327.7,399.6 L329.2,401.1 L330.6,402.5 L332.0,404.0 L333.4,405.5 L334.7,407.1 L336.0,408.7 L337.3,410.2 L338.5,411.8 L339.7,413.5 L340.8,415.2 L341.9,416.9 L342.9,418.7 L343.8,420.5 L344.7,422.3 L345.4,424.2 L346.2,426.1 L346.9,428.0 L347.7,429.9 L348.3,431.8 L348.9,433.8 L349.4,435.8 L349.8,437.8 L350.1,439.8 L350.5,441.9 L350.9,443.9 L351.2,446.0 L351.4,448.1 L351.4,450.2 L351.3,452.3 L351.0,454.4 L350.7,456.4 L350.3,458.5 L349.9,460.6 L349.4,462.6 L348.8,464.6 L348.1,466.6 L347.3,468.5 L346.5,470.5 L345.6,472.4 L344.8,474.3 L344.0,476.3 L343.1,478.2 L342.1,480.1 L341.1,482.0 L339.9,483.8 L338.7,485.6 L337.5,487.4 L336.2,489.1 L334.9,490.9 L333.5,492.6 L332.0,494.3 L330.5,495.9 L328.8,497.4 L327.1,498.8 L325.3,500.0 L323.4,501.2 L321.4,502.3 L319.4,503.3 L317.4,504.2 L315.4,505.1 L313.3,506.0 L311.3,506.8 L309.1,507.5 L307.0,508.1 L304.8,508.5 L302.6,508.9 L300.4,509.2 L298.2,509.4 L295.9,509.5 L293.7,509.4 L291.5,509.3 L289.3,509.2 L287.1,509.0 L284.9,508.6 L282.8,508.1 L280.7,507.5 L278.6,506.9 L276.5,506.2 L274.5,505.4 L272.4,504.7 L270.4,503.9 L268.4,503.1 L266.4,502.3 L264.5,501.4 L262.5,500.5 L260.6,499.5 L258.8,498.4 L257.0,497.2 L255.2,495.9 L253.5,494.6 L251.8,493.3 L250.2,491.9 L248.5,490.5 L246.9,489.0 L245.4,487.5 L244.0,485.9 L242.7,484.1 L241.3,482.5 L239.6,481.0 L237.7,479.6 L236.0,478.1 L234.5,476.3 L233.5,474.3 L232.5,472.3 L231.6,470.2 L230.8,468.1 L230.1,466.0 L229.4,463.8 L228.9,461.6 L228.4,459.4 L228.0,457.2 L227.7,455.0 L227.5,452.7 L227.4,450.5 L227.6,448.2Z" fill="none" stroke="#5d803b" stroke-width="2.15"/><path d="M217.9,446.0 L218.2,443.4 L218.7,440.9 L219.5,438.4 L220.2,436.0 L221.0,433.6 L222.2,431.3 L223.4,429.0 L224.4,426.8 L225.5,424.6 L226.9,422.5 L228.3,420.5 L229.6,418.4 L230.7,416.3 L231.9,414.3 L233.3,412.4 L234.7,410.5 L236.0,408.6 L237.3,406.6 L238.4,404.5 L239.7,402.5 L241.0,400.5 L242.5,398.7 L244.1,396.9 L245.8,395.2 L247.5,393.5 L249.3,391.9 L251.2,390.5 L253.2,389.2 L255.2,387.9 L257.3,386.7 L259.3,385.5 L261.4,384.2 L263.4,382.9 L265.5,381.7 L267.7,380.6 L269.9,379.6 L272.2,378.7 L274.5,377.9 L276.9,377.3 L279.3,376.8 L281.7,376.4 L284.2,376.1 L286.6,375.9 L289.0,375.8 L291.5,375.8 L293.9,376.0 L296.4,376.3 L298.8,376.7 L301.1,377.3 L303.5,378.0 L305.8,378.7 L308.1,379.4 L310.4,380.0 L312.7,380.7 L314.9,381.6 L317.1,382.6 L319.2,383.8 L321.2,385.1 L323.2,386.4 L325.1,387.8 L327.0,389.2 L328.9,390.6 L330.7,392.0 L332.5,393.6 L334.1,395.2 L335.7,396.9 L337.3,398.6 L338.7,400.4 L340.2,402.2 L341.6,404.0 L343.0,405.8 L344.3,407.6 L345.6,409.5 L346.8,411.4 L348.0,413.4 L349.0,415.4 L350.0,417.5 L350.9,419.6 L351.6,421.7 L352.4,423.8 L353.1,426.0 L353.7,428.2 L354.3,430.3 L354.8,432.5 L355.2,434.8 L355.5,437.0 L355.8,439.2 L356.2,441.5 L356.6,443.7 L356.9,446.0 L357.2,448.3 L357.3,450.6 L357.3,452.9 L357.2,455.2 L357.0,457.6 L356.8,459.9 L356.6,462.2 L356.2,464.6 L355.8,466.9 L355.1,469.2 L354.4,471.4 L353.6,473.6 L352.7,475.9 L351.8,478.1 L350.9,480.3 L349.9,482.5 L348.8,484.7 L347.6,486.8 L346.3,488.8 L344.9,490.8 L343.5,492.8 L342.0,494.8 L340.5,496.7 L339.0,498.7 L337.3,500.6 L335.6,502.4 L333.7,504.1 L331.7,505.7 L329.6,507.0 L327.5,508.3 L325.2,509.4 L322.9,510.5 L320.6,511.4 L318.3,512.3 L315.9,513.2 L313.6,514.0 L311.2,514.6 L308.7,515.1 L306.3,515.5 L303.8,515.9 L301.4,516.2 L298.9,516.5 L296.4,516.6 L294.0,516.6 L291.5,516.5 L289.0,516.4 L286.6,516.2 L284.2,515.9 L281.8,515.3 L279.4,514.7 L277.1,513.9 L274.8,513.1 L272.5,512.2 L270.3,511.2 L268.1,510.2 L266.0,509.2 L263.8,508.1 L261.7,507.0 L259.6,505.9 L257.6,504.7 L255.6,503.5 L253.6,502.2 L251.7,500.8 L249.8,499.4 L247.9,497.9 L246.0,496.5 L244.1,495.1 L242.2,493.6 L240.5,492.0 L238.8,490.2 L237.2,488.4 L235.6,486.6 L233.5,485.1 L231.3,483.6 L229.1,482.0 L227.3,480.1 L226.0,477.9 L224.8,475.7 L223.7,473.4 L222.6,471.1 L221.6,468.7 L220.7,466.3 L219.9,463.8 L219.2,461.4 L218.6,458.9 L218.1,456.3 L217.7,453.8 L217.5,451.2 L217.6,448.6Z" fill="none" stroke="#5d803b" stroke-width="2.15"/><path d="M210.3,446.0 L210.5,443.2 L211.1,440.4 L211.9,437.6 L212.6,434.9 L213.5,432.2 L214.7,429.7 L216.1,427.2 L217.3,424.7 L218.5,422.3 L220.0,420.0 L221.7,417.8 L223.2,415.6 L224.4,413.3 L225.8,411.1 L227.4,409.0 L229.0,406.9 L230.4,404.8 L231.8,402.6 L233.0,400.3 L234.3,398.0 L235.7,395.8 L237.4,393.7 L239.1,391.8 L240.9,389.8 L242.8,388.0 L244.8,386.2 L246.9,384.6 L249.2,383.2 L251.5,381.9 L253.8,380.6 L256.1,379.4 L258.3,378.0 L260.6,376.5 L262.9,375.2 L265.3,373.9 L267.7,372.7 L270.2,371.6 L272.7,370.6 L275.3,369.7 L277.9,369.0 L280.6,368.5 L283.3,368.0 L286.0,367.7 L288.8,367.4 L291.5,367.4 L294.2,367.5 L297.0,367.9 L299.6,368.5 L302.3,369.3 L304.9,370.2 L307.4,371.2 L309.9,372.1 L312.4,373.0 L314.9,374.0 L317.3,375.1 L319.6,376.4 L321.9,377.8 L324.0,379.4 L326.1,380.9 L328.1,382.5 L330.2,384.1 L332.2,385.7 L334.1,387.3 L336.0,389.0 L337.8,390.8 L339.5,392.7 L341.1,394.6 L342.7,396.6 L344.2,398.5 L345.7,400.5 L347.2,402.5 L348.7,404.5 L350.1,406.5 L351.5,408.5 L352.9,410.5 L354.2,412.7 L355.4,414.8 L356.6,417.0 L357.7,419.3 L358.7,421.5 L359.7,423.8 L360.7,426.2 L361.6,428.5 L362.3,430.9 L362.9,433.4 L363.3,435.9 L363.7,438.4 L364.1,440.9 L364.5,443.4 L364.9,446.0 L365.1,448.6 L365.2,451.2 L365.1,453.7 L364.9,456.3 L364.6,458.9 L364.3,461.5 L364.0,464.1 L363.6,466.7 L363.1,469.3 L362.4,471.8 L361.6,474.3 L360.7,476.8 L359.7,479.3 L358.7,481.8 L357.7,484.2 L356.6,486.7 L355.3,489.0 L354.0,491.4 L352.4,493.6 L350.8,495.8 L349.1,497.9 L347.5,500.0 L345.8,502.2 L344.0,504.3 L342.2,506.4 L340.3,508.4 L338.2,510.3 L336.0,512.0 L333.7,513.5 L331.3,514.9 L328.8,516.2 L326.3,517.3 L323.7,518.3 L321.1,519.2 L318.5,520.1 L315.8,520.9 L313.1,521.5 L310.4,521.9 L307.7,522.1 L305.0,522.3 L302.3,522.5 L299.6,522.7 L296.9,522.6 L294.2,522.5 L291.5,522.3 L288.8,522.2 L286.2,522.0 L283.5,521.7 L280.9,521.2 L278.3,520.6 L275.8,520.0 L273.2,519.2 L270.7,518.4 L268.3,517.5 L265.8,516.6 L263.3,515.7 L260.9,514.7 L258.5,513.6 L256.1,512.5 L253.8,511.3 L251.5,510.0 L249.3,508.6 L247.1,507.2 L244.9,505.6 L242.7,504.1 L240.5,502.6 L238.3,501.1 L236.2,499.4 L234.1,497.7 L232.1,495.8 L230.3,493.8 L228.4,491.8 L226.1,490.1 L223.5,488.5 L221.1,486.6 L219.2,484.4 L217.9,481.9 L216.7,479.3 L215.6,476.7 L214.5,474.0 L213.7,471.3 L212.9,468.5 L212.2,465.8 L211.5,463.0 L210.9,460.2 L210.4,457.4 L210.1,454.6 L209.9,451.7 L210.0,448.8Z" fill="none" stroke="#5d803b" stroke-width="2.15"/><path d="M202.2,446.0 L202.5,442.9 L203.1,439.8 L204.0,436.8 L204.8,433.8 L205.7,430.9 L207.0,428.0 L208.5,425.3 L209.8,422.6 L211.0,419.9 L212.8,417.3 L214.6,414.9 L216.2,412.5 L217.6,410.0 L219.2,407.6 L220.9,405.3 L222.7,403.0 L224.3,400.7 L225.7,398.2 L227.1,395.7 L228.4,393.1 L230.0,390.6 L231.7,388.3 L233.6,386.0 L235.5,383.8 L237.5,381.7 L239.7,379.7 L242.1,377.9 L244.5,376.4 L247.1,375.0 L249.7,373.6 L252.3,372.3 L254.9,370.9 L257.4,369.4 L260.1,368.2 L262.8,367.1 L265.5,366.0 L268.3,364.9 L271.1,364.0 L273.9,363.3 L276.8,362.8 L279.7,362.3 L282.7,361.9 L285.6,361.6 L288.5,361.4 L291.5,361.4 L294.5,361.5 L297.4,361.9 L300.3,362.5 L303.1,363.3 L305.9,364.3 L308.7,365.3 L311.4,366.2 L314.1,367.1 L316.8,368.1 L319.4,369.3 L322.0,370.6 L324.4,372.1 L326.8,373.7 L329.1,375.3 L331.3,377.0 L333.6,378.6 L335.9,380.1 L338.2,381.8 L340.4,383.5 L342.4,385.3 L344.4,387.2 L346.3,389.3 L348.1,391.3 L349.8,393.5 L351.5,395.6 L353.2,397.8 L354.8,400.0 L356.3,402.3 L357.8,404.6 L359.2,406.9 L360.6,409.3 L361.8,411.7 L363.0,414.2 L364.1,416.7 L365.2,419.2 L366.3,421.7 L367.3,424.3 L368.3,426.8 L369.2,429.5 L369.9,432.2 L370.4,434.9 L370.9,437.7 L371.5,440.4 L372.0,443.2 L372.4,446.0 L372.7,448.8 L372.8,451.7 L372.7,454.5 L372.4,457.4 L372.0,460.2 L371.6,463.0 L371.2,465.9 L370.7,468.7 L370.0,471.5 L369.2,474.3 L368.2,477.0 L367.2,479.7 L366.2,482.4 L365.1,485.1 L363.9,487.8 L362.7,490.5 L361.3,493.1 L359.7,495.6 L358.1,498.0 L356.2,500.3 L354.3,502.6 L352.4,504.8 L350.5,507.1 L348.5,509.4 L346.5,511.6 L344.4,513.7 L342.1,515.6 L339.7,517.4 L337.2,519.1 L334.6,520.6 L331.9,522.0 L329.2,523.3 L326.5,524.6 L323.7,525.8 L320.9,526.9 L318.1,527.9 L315.2,528.8 L312.3,529.4 L309.3,529.9 L306.4,530.2 L303.4,530.6 L300.4,530.8 L297.4,530.8 L294.5,530.7 L291.5,530.5 L288.6,530.4 L285.6,530.1 L282.7,529.7 L279.8,529.1 L277.0,528.4 L274.2,527.6 L271.4,526.7 L268.6,525.8 L265.9,524.8 L263.2,523.7 L260.5,522.6 L257.9,521.5 L255.3,520.3 L252.7,519.0 L250.2,517.6 L247.7,516.1 L245.3,514.4 L243.0,512.7 L240.8,510.9 L238.5,509.2 L236.2,507.5 L233.8,505.7 L231.5,503.9 L229.3,502.0 L227.1,500.0 L225.2,497.8 L223.0,495.8 L220.4,494.0 L217.4,492.3 L214.5,490.4 L212.3,488.1 L210.7,485.4 L209.2,482.6 L207.9,479.8 L206.7,476.9 L205.6,473.9 L204.7,470.9 L204.0,467.8 L203.3,464.8 L202.7,461.7 L202.2,458.6 L201.8,455.4 L201.7,452.3 L201.9,449.1Z" fill="none" stroke="#5d803b" stroke-width="2.15"/><path d="M193.1,446.0 L193.4,442.6 L194.1,439.2 L195.2,435.9 L196.0,432.6 L197.1,429.3 L198.6,426.2 L200.2,423.2 L201.6,420.2 L203.1,417.3 L205.0,414.5 L207.1,411.9 L208.9,409.2 L210.6,406.5 L212.4,403.9 L214.4,401.5 L216.5,399.1 L218.4,396.7 L220.1,394.2 L221.7,391.5 L223.4,388.8 L225.1,386.3 L227.2,383.9 L229.3,381.6 L231.4,379.3 L233.7,377.1 L236.0,375.0 L238.5,373.1 L241.2,371.4 L243.9,369.9 L246.7,368.4 L249.4,366.9 L252.1,365.2 L254.8,363.5 L257.6,362.0 L260.5,360.7 L263.4,359.4 L266.3,358.2 L269.3,357.2 L272.4,356.3 L275.6,355.7 L278.7,355.1 L281.9,354.6 L285.1,354.3 L288.3,354.0 L291.5,353.9 L294.7,354.0 L297.9,354.4 L301.1,355.0 L304.2,355.8 L307.2,356.8 L310.2,357.8 L313.2,358.8 L316.2,359.8 L319.2,360.9 L322.0,362.2 L324.7,363.7 L327.4,365.4 L329.9,367.3 L332.4,369.1 L334.8,371.0 L337.2,372.8 L339.7,374.6 L342.1,376.4 L344.4,378.3 L346.7,380.3 L348.8,382.4 L350.9,384.5 L352.9,386.7 L354.8,389.0 L356.7,391.3 L358.6,393.6 L360.4,395.9 L362.1,398.4 L363.8,400.8 L365.4,403.3 L366.9,405.9 L368.2,408.6 L369.4,411.3 L370.5,414.1 L371.6,416.8 L372.7,419.6 L373.8,422.4 L374.8,425.2 L375.7,428.1 L376.3,431.0 L376.9,434.0 L377.4,437.0 L377.9,440.0 L378.5,443.0 L379.0,446.0 L379.3,449.1 L379.4,452.1 L379.3,455.2 L379.0,458.3 L378.6,461.4 L378.2,464.4 L377.7,467.5 L377.1,470.5 L376.4,473.6 L375.5,476.6 L374.5,479.5 L373.4,482.5 L372.3,485.4 L371.2,488.4 L370.1,491.4 L368.9,494.3 L367.5,497.3 L366.0,500.1 L364.3,502.9 L362.4,505.5 L360.4,508.1 L358.5,510.7 L356.5,513.3 L354.4,515.8 L352.2,518.3 L349.8,520.7 L347.3,522.8 L344.6,524.8 L341.8,526.5 L338.9,528.1 L335.9,529.5 L332.8,530.8 L329.8,532.0 L326.7,533.1 L323.6,534.2 L320.5,535.2 L317.3,536.0 L314.1,536.6 L310.8,537.0 L307.6,537.3 L304.4,537.6 L301.2,537.8 L297.9,537.8 L294.7,537.5 L291.5,537.3 L288.3,537.1 L285.2,536.7 L282.0,536.2 L278.9,535.5 L275.9,534.7 L272.9,533.7 L269.9,532.7 L266.9,531.7 L264.0,530.6 L261.1,529.6 L258.2,528.5 L255.3,527.3 L252.4,526.1 L249.6,524.8 L246.8,523.4 L244.1,521.9 L241.4,520.2 L238.9,518.4 L236.4,516.6 L233.9,514.7 L231.3,512.9 L228.7,511.0 L226.2,509.0 L223.8,507.0 L221.5,504.7 L219.4,502.3 L217.1,500.1 L214.2,498.1 L210.9,496.4 L207.7,494.4 L205.2,491.9 L203.4,489.0 L201.8,485.9 L200.2,482.9 L198.8,479.7 L197.5,476.5 L196.4,473.3 L195.4,469.9 L194.6,466.6 L193.8,463.2 L193.2,459.8 L192.7,456.4 L192.5,452.9 L192.7,449.4Z" fill="none" stroke="#5d803b" stroke-width="2.15"/><path d="M184.9,446.0 L185.4,442.3 L186.3,438.6 L187.5,435.1 L188.6,431.5 L189.8,428.1 L191.6,424.8 L193.5,421.6 L195.0,418.3 L196.6,415.2 L198.7,412.2 L201.0,409.4 L202.9,406.6 L204.6,403.6 L206.5,400.8 L208.6,398.1 L210.7,395.5 L212.6,392.8 L214.4,390.0 L216.0,387.1 L217.7,384.1 L219.6,381.3 L221.7,378.6 L224.0,376.1 L226.3,373.6 L228.8,371.2 L231.3,369.0 L234.1,367.0 L237.0,365.2 L240.0,363.5 L243.0,362.0 L246.0,360.4 L248.9,358.6 L251.8,356.8 L254.8,355.1 L257.9,353.7 L261.1,352.3 L264.3,351.0 L267.5,349.9 L270.9,349.0 L274.3,348.3 L277.7,347.7 L281.1,347.3 L284.6,346.9 L288.0,346.7 L291.5,346.6 L295.0,346.8 L298.4,347.2 L301.8,348.0 L305.1,348.9 L308.4,350.0 L311.7,351.1 L314.9,352.2 L318.1,353.2 L321.3,354.3 L324.4,355.6 L327.4,357.2 L330.2,359.1 L333.0,361.0 L335.6,363.0 L338.2,365.1 L340.8,367.1 L343.4,369.0 L346.0,371.0 L348.4,373.1 L350.8,375.4 L353.0,377.7 L355.2,380.1 L357.2,382.5 L359.3,385.0 L361.3,387.4 L363.3,389.9 L365.2,392.5 L367.1,395.0 L368.9,397.6 L370.7,400.3 L372.3,403.0 L373.8,405.9 L375.2,408.7 L376.5,411.7 L377.7,414.6 L379.0,417.6 L380.2,420.6 L381.4,423.6 L382.4,426.7 L383.2,429.8 L383.8,433.0 L384.4,436.2 L385.1,439.5 L385.8,442.7 L386.4,446.0 L386.9,449.3 L387.2,452.7 L387.1,456.1 L386.9,459.4 L386.5,462.8 L386.1,466.1 L385.7,469.5 L385.1,472.8 L384.3,476.1 L383.3,479.4 L382.1,482.6 L380.9,485.8 L379.6,489.0 L378.3,492.1 L376.9,495.3 L375.4,498.4 L373.8,501.5 L372.1,504.5 L370.1,507.4 L368.0,510.2 L365.8,512.9 L363.7,515.7 L361.5,518.5 L359.2,521.2 L356.8,523.9 L354.3,526.4 L351.6,528.7 L348.7,530.8 L345.7,532.7 L342.5,534.4 L339.3,535.9 L336.0,537.3 L332.7,538.5 L329.4,539.7 L326.0,540.9 L322.7,541.9 L319.3,542.8 L315.8,543.4 L312.3,543.8 L308.8,544.1 L305.3,544.4 L301.9,544.7 L298.4,544.7 L294.9,544.5 L291.5,544.2 L288.1,544.1 L284.7,543.7 L281.3,543.2 L277.9,542.4 L274.7,541.6 L271.4,540.5 L268.2,539.4 L265.0,538.3 L261.9,537.1 L258.8,535.9 L255.7,534.7 L252.6,533.4 L249.5,532.1 L246.4,530.8 L243.4,529.3 L240.4,527.7 L237.5,526.0 L234.7,524.2 L231.9,522.2 L229.1,520.3 L226.3,518.5 L223.4,516.5 L220.6,514.5 L217.8,512.3 L215.3,509.9 L212.9,507.4 L210.4,504.9 L207.2,502.9 L203.5,501.0 L200.1,498.8 L197.4,496.1 L195.4,492.9 L193.7,489.5 L192.0,486.2 L190.5,482.8 L189.2,479.2 L188.0,475.7 L187.0,472.0 L186.1,468.4 L185.3,464.7 L184.7,461.0 L184.2,457.3 L184.1,453.5 L184.4,449.7Z" fill="none" stroke="#5d803b" stroke-width="2.15"/><path d="M176.4,446.0 L176.9,442.0 L177.8,438.0 L179.1,434.2 L180.2,430.4 L181.5,426.6 L183.4,423.0 L185.5,419.6 L187.2,416.1 L188.9,412.7 L191.3,409.5 L193.8,406.5 L196.0,403.5 L197.8,400.3 L199.9,397.3 L202.2,394.5 L204.6,391.7 L206.7,388.8 L208.6,385.8 L210.4,382.6 L212.2,379.4 L214.2,376.4 L216.5,373.5 L218.9,370.8 L221.4,368.2 L224.0,365.6 L226.8,363.2 L229.8,361.1 L232.9,359.2 L236.2,357.5 L239.4,355.8 L242.7,354.1 L245.8,352.3 L248.9,350.3 L252.1,348.6 L255.5,347.1 L258.9,345.6 L262.3,344.2 L265.8,342.9 L269.4,342.0 L273.0,341.2 L276.7,340.6 L280.4,340.1 L284.1,339.8 L287.8,339.6 L291.5,339.5 L295.2,339.7 L298.9,340.3 L302.5,341.1 L306.1,342.2 L309.6,343.4 L313.0,344.7 L316.5,345.9 L319.9,347.0 L323.3,348.2 L326.6,349.6 L329.7,351.3 L332.8,353.2 L335.7,355.3 L338.6,357.4 L341.4,359.5 L344.2,361.6 L347.1,363.6 L349.9,365.7 L352.5,367.9 L355.1,370.2 L357.6,372.6 L359.9,375.2 L362.2,377.7 L364.4,380.4 L366.6,383.0 L368.7,385.7 L370.9,388.3 L372.9,391.1 L374.9,393.9 L376.8,396.7 L378.6,399.7 L380.3,402.7 L381.8,405.8 L383.2,409.0 L384.6,412.1 L385.9,415.3 L387.3,418.5 L388.5,421.8 L389.5,425.2 L390.3,428.6 L391.0,432.0 L391.6,435.5 L392.2,439.0 L392.9,442.5 L393.5,446.0 L394.0,449.6 L394.2,453.2 L394.1,456.8 L393.8,460.4 L393.4,464.0 L392.9,467.6 L392.4,471.2 L391.8,474.8 L391.0,478.3 L390.0,481.8 L388.7,485.3 L387.4,488.7 L386.1,492.1 L384.7,495.6 L383.3,499.0 L381.7,502.4 L380.0,505.7 L378.1,508.9 L376.0,512.0 L373.7,515.0 L371.4,517.9 L369.0,520.9 L366.7,523.8 L364.2,526.8 L361.7,529.6 L359.0,532.3 L356.0,534.8 L352.9,537.1 L349.7,539.1 L346.3,540.9 L342.8,542.6 L339.3,544.0 L335.7,545.4 L332.2,546.7 L328.6,547.9 L325.0,549.0 L321.3,549.9 L317.6,550.5 L313.8,550.9 L310.1,551.3 L306.3,551.6 L302.6,551.9 L298.9,551.9 L295.2,551.6 L291.5,551.4 L287.8,551.2 L284.2,550.9 L280.5,550.4 L276.9,549.6 L273.4,548.7 L269.9,547.7 L266.4,546.5 L263.0,545.3 L259.6,544.1 L256.3,542.8 L252.9,541.5 L249.6,540.1 L246.3,538.7 L243.0,537.2 L239.8,535.6 L236.6,533.9 L233.5,532.0 L230.5,529.9 L227.6,527.8 L224.6,525.7 L221.5,523.7 L218.5,521.6 L215.4,519.4 L212.5,517.1 L209.8,514.5 L207.3,511.8 L204.5,509.2 L201.1,507.0 L197.1,505.0 L193.3,502.7 L190.4,499.8 L188.2,496.4 L186.4,492.8 L184.6,489.2 L183.0,485.5 L181.5,481.7 L180.3,477.9 L179.2,474.0 L178.1,470.1 L177.2,466.1 L176.5,462.2 L175.9,458.1 L175.7,454.1 L176.0,450.0Z" fill="none" stroke="#5d803b" stroke-width="2.15"/><ellipse cx="292.5" cy="445.5" rx="27.5" ry="32" fill="#8cb948"/><ellipse cx="293" cy="446" rx="21.6" ry="26" fill="none" stroke="#5d803b" stroke-width="2.3"/><ellipse cx="293" cy="446" rx="14.5" ry="19" fill="none" stroke="#5d803b" stroke-width="2.3"/><ellipse cx="292.2" cy="447.1" rx="8.7" ry="11.5" transform="rotate(15 292.2 447.1)" fill="#f2b944" stroke="#5d803b" stroke-width="1.2"/><g fill="#fcc13a"><path d="M136.6,50.5 C136.6,41.5 142.5,36.3 150.8,36.3 C159.4,36.3 165,42.2 165,50.5 C165,58.5 160,63 152,69.5 L135,83" fill="none" stroke="#fcc13a" stroke-width="13"/><rect x="130" y="78.4" width="42" height="12.2"/><path d="M185.6,90.6 L199.9,90.6 L199.9,30.5 L188,30.5 C185,35 180,36 173.6,36 L173.6,47.6 L185.6,47.6 Z"/></g><line x1="293.2" y1="215" x2="293.2" y2="440" stroke="#f6c042" stroke-width="2.6" stroke-linecap="round"/><line x1="317.5" y1="434.5" x2="484.7" y2="294.7" stroke="#f6c042" stroke-width="2.9"/><line x1="397" y1="459" x2="484" y2="459" stroke="#f6c042" stroke-width="3"/><line x1="426.5" y1="587.6" x2="483.3" y2="610" stroke="#f6c042" stroke-width="2.9"/></svg>
<div style="position:absolute;left:129.0px;top:94.0px;font-size:31.25px;line-height:31.25px;font-weight:normal;color:#1e3344;letter-spacing:0px;word-spacing:0px;transform:scaleX(0.8187);transform-origin:0 0;-webkit-text-stroke:0.4px #1e3344;">COMPANIES REPORT</div><div style="position:absolute;left:129.0px;top:122.0px;font-size:31.25px;line-height:31.25px;font-weight:normal;color:#1e3344;letter-spacing:0px;word-spacing:0px;transform:scaleX(0.8074);transform-origin:0 0;-webkit-text-stroke:0.4px #1e3344;clip-path:inset(0 0 2.5px 0);">QUANTITATIVE PROGRESS</div><div style="position:absolute;left:129.0px;top:150.0px;font-size:31.25px;line-height:31.25px;font-weight:normal;color:#1e3344;letter-spacing:0px;word-spacing:0px;transform:scaleX(0.7933);transform-origin:0 0;-webkit-text-stroke:0.4px #1e3344;">ON ZERO OR NET-ZERO</div><div style="position:absolute;left:128.0px;top:178.0px;font-size:31.25px;line-height:31.25px;font-weight:normal;color:#1e3344;letter-spacing:0px;word-spacing:0px;transform:scaleX(0.8093);transform-origin:0 0;-webkit-text-stroke:0.4px #1e3344;">DEFORESTATION</div><div style="position:absolute;left:498.0px;top:214.0px;font-size:50px;line-height:50px;font-weight:bold;color:#1e3344;letter-spacing:0px;word-spacing:0px;transform:scaleX(0.9811);transform-origin:0 0;-webkit-text-stroke:1.2px #1e3344;">72</div><div style="position:absolute;left:498.0px;top:259.0px;font-size:17.4px;line-height:17.4px;font-weight:normal;color:#1e3344;letter-spacing:0px;word-spacing:0px;transform:scaleX(0.9134);transform-origin:0 0;-webkit-text-stroke:0.25px #1e3344;">COMPANIES WITH</div><div style="position:absolute;left:499.0px;top:277.0px;font-size:17.4px;line-height:17.4px;font-weight:normal;color:#1e3344;letter-spacing:0px;word-spacing:0px;transform:scaleX(0.8527);transform-origin:0 0;-webkit-text-stroke:0.25px #1e3344;">ZERO OR NET-ZERO</div><div style="position:absolute;left:498.0px;top:296.0px;font-size:17.4px;line-height:17.4px;font-weight:normal;color:#1e3344;letter-spacing:0px;word-spacing:0px;transform:scaleX(0.8839);transform-origin:0 0;-webkit-text-stroke:0.25px #1e3344;">DEFORESTATION</div><div style="position:absolute;left:498.0px;top:314.0px;font-size:17.4px;line-height:17.4px;font-weight:normal;color:#1e3344;letter-spacing:0px;word-spacing:0px;transform:scaleX(0.9324);transform-origin:0 0;-webkit-text-stroke:0.25px #1e3344;">COMMITMENTS</div><div style="position:absolute;left:500.0px;top:383.0px;font-size:50px;line-height:50px;font-weight:bold;color:#1e3344;letter-spacing:0px;word-spacing:0px;transform:scaleX(1.0833);transform-origin:0 0;-webkit-text-stroke:1.2px #1e3344;">484</div><div style="position:absolute;left:498.0px;top:428.7px;font-size:17.4px;line-height:17.4px;font-weight:normal;color:#1e3344;letter-spacing:0px;word-spacing:0px;transform:scaleX(0.9187);transform-origin:0 0;-webkit-text-stroke:0.25px #1e3344;">COMPANIES WITH</div><div style="position:absolute;left:498.0px;top:446.7px;font-size:17.4px;line-height:17.4px;font-weight:normal;color:#1e3344;letter-spacing:0px;word-spacing:0px;transform:scaleX(0.9043);transform-origin:0 0;-webkit-text-stroke:0.25px #1e3344;">SUSTAINABLE</div><div style="position:absolute;left:498.0px;top:465.7px;font-size:17.4px;line-height:17.4px;font-weight:normal;color:#1e3344;letter-spacing:0px;word-spacing:0px;transform:scaleX(0.9197);transform-origin:0 0;-webkit-text-stroke:0.25px #1e3344;">COMMODITY</div><div style="position:absolute;left:498.0px;top:484.7px;font-size:17.4px;line-height:17.4px;font-weight:normal;color:#1e3344;letter-spacing:0px;word-spacing:0px;transform:scaleX(0.9324);transform-origin:0 0;-webkit-text-stroke:0.25px #1e3344;">COMMITMENTS</div><div style="position:absolute;left:500.0px;top:551.0px;font-size:50px;line-height:50px;font-weight:bold;color:#1e3344;letter-spacing:0px;word-spacing:0px;transform:scaleX(1.0854);transform-origin:0 0;-webkit-text-stroke:1.2px #1e3344;">865</div><div style="position:absolute;left:498.0px;top:599.0px;font-size:17.4px;line-height:17.4px;font-weight:normal;color:#1e3344;letter-spacing:0px;word-spacing:0px;transform:scaleX(0.9133);transform-origin:0 0;-webkit-text-stroke:0.25px #1e3344;">COMPANIES WITH</div><div style="position:absolute;left:498.0px;top:617.0px;font-size:17.4px;line-height:17.4px;font-weight:normal;color:#1e3344;letter-spacing:0px;word-spacing:0px;transform:scaleX(0.8679);transform-origin:0 0;-webkit-text-stroke:0.25px #1e3344;">FOREST-RISK</div><div style="position:absolute;left:498.0px;top:635.0px;font-size:17.4px;line-height:17.4px;font-weight:normal;color:#1e3344;letter-spacing:0px;word-spacing:0px;transform:scaleX(0.8991);transform-origin:0 0;-webkit-text-stroke:0.25px #1e3344;">EXPOSURE</div><div style="position:absolute;left:707.0px;top:96.4px;font-size:29px;line-height:29px;font-weight:normal;color:#5b7c37;letter-spacing:0px;word-spacing:0px;transform:scaleX(0.9183);transform-origin:0 0;-webkit-text-stroke:0.5px #5b7c37;">KEY FINDINGS:</div><div style="position:absolute;left:708.0px;top:148.72px;font-size:21px;line-height:21px;font-weight:normal;color:#1e3344;letter-spacing:0.239px;word-spacing:-2.5px;"><b style="-webkit-text-stroke:0.4px #1e3344">484 (56%) of the 865 companies with forest-risk</b></div><div style="position:absolute;left:707.0px;top:174.82px;font-size:21px;line-height:21px;font-weight:normal;color:#1e3344;letter-spacing:0.105px;word-spacing:-2.5px;"><b style="-webkit-text-stroke:0.4px #1e3344">exposure have set sustainable commodity</b></div><div style="position:absolute;left:707.0px;top:200.92px;font-size:21px;line-height:21px;font-weight:normal;color:#1e3344;letter-spacing:0.279px;word-spacing:-2.5px;"><b style="-webkit-text-stroke:0.4px #1e3344">commitment(s).</b> Of the 865 companies tracked,</div><div style="position:absolute;left:708.0px;top:227.02px;font-size:21px;line-height:21px;font-weight:normal;color:#1e3344;letter-spacing:0.439px;word-spacing:-2.5px;">484 aim to implement sustainable commodity</div><div style="position:absolute;left:707.0px;top:253.11999999999998px;font-size:21px;line-height:21px;font-weight:normal;color:#1e3344;letter-spacing:0.404px;word-spacing:-2.5px;">commitment(s) related to sourcing the “big four”</div><div style="position:absolute;left:707.0px;top:279.22px;font-size:21px;line-height:21px;font-weight:normal;color:#1e3344;letter-spacing:0.364px;word-spacing:-2.5px;">commodities in ways that address deforestation.</div><div style="position:absolute;left:707.0px;top:322.02px;font-size:21px;line-height:21px;font-weight:normal;color:#1e3344;letter-spacing:0.178px;word-spacing:-2.5px;"><b style="-webkit-text-stroke:0.4px #1e3344">Only 72 (8%) of the 865 companies have committed</b></div><div style="position:absolute;left:708.0px;top:348.12px;font-size:21px;line-height:21px;font-weight:normal;color:#1e3344;letter-spacing:0.28px;word-spacing:-2.5px;"><b style="-webkit-text-stroke:0.4px #1e3344">to achieve zero/zero-net deforestation for at least</b></div><div style="position:absolute;left:707.0px;top:374.22px;font-size:21px;line-height:21px;font-weight:normal;color:#1e3344;letter-spacing:0.111px;word-spacing:-2.5px;"><b style="-webkit-text-stroke:0.4px #1e3344">one “big four” commodity</b>. Of the 865 companies</div><div style="position:absolute;left:708.0px;top:400.32000000000005px;font-size:21px;line-height:21px;font-weight:normal;color:#1e3344;letter-spacing:-0.008px;word-spacing:-2.5px;">tracked by Supply Change, 72 companies (8%)</div><div style="position:absolute;left:707.0px;top:426.4200000000001px;font-size:21px;line-height:21px;font-weight:normal;color:#1e3344;letter-spacing:0.373px;word-spacing:-2.5px;">have committed to zero/zero-net deforestation</div><div style="position:absolute;left:707.0px;top:452.52px;font-size:21px;line-height:21px;font-weight:normal;color:#1e3344;letter-spacing:0.174px;word-spacing:-2.5px;">supply chain(s).</div><div style="position:absolute;left:708.0px;top:495.52px;font-size:21px;line-height:21px;font-weight:normal;color:#1e3344;letter-spacing:-0.048px;word-spacing:-2.5px;"><b style="-webkit-text-stroke:0.4px #1e3344">Just 21 companies (29%) of the 72 companies</b></div><div style="position:absolute;left:707.0px;top:521.62px;font-size:21px;line-height:21px;font-weight:normal;color:#1e3344;letter-spacing:0.31px;word-spacing:-2.5px;"><b style="-webkit-text-stroke:0.4px #1e3344">have at least one zero/zero-net deforestation</b></div><div style="position:absolute;left:707.0px;top:547.72px;font-size:21px;line-height:21px;font-weight:normal;color:#1e3344;letter-spacing:0.244px;word-spacing:-2.5px;"><b style="-webkit-text-stroke:0.4px #1e3344">commitment with quantitative progress.</b><sup>9</sup> Of the</div><div style="position:absolute;left:707.0px;top:573.8199999999999px;font-size:21px;line-height:21px;font-weight:normal;color:#1e3344;letter-spacing:0.267px;word-spacing:-2.5px;">72 companies with zero/zero-net commitment(s),</div><div style="position:absolute;left:709.0px;top:599.92px;font-size:21px;line-height:21px;font-weight:normal;color:#1e3344;letter-spacing:0.161px;word-spacing:-2.5px;">just 21 have reported quantitative progress<sup>10</sup> toward</div><div style="position:absolute;left:707.0px;top:626.02px;font-size:21px;line-height:21px;font-weight:normal;color:#1e3344;letter-spacing:0.367px;word-spacing:-2.5px;">achieving at least one of them.</div>
</body></html>
